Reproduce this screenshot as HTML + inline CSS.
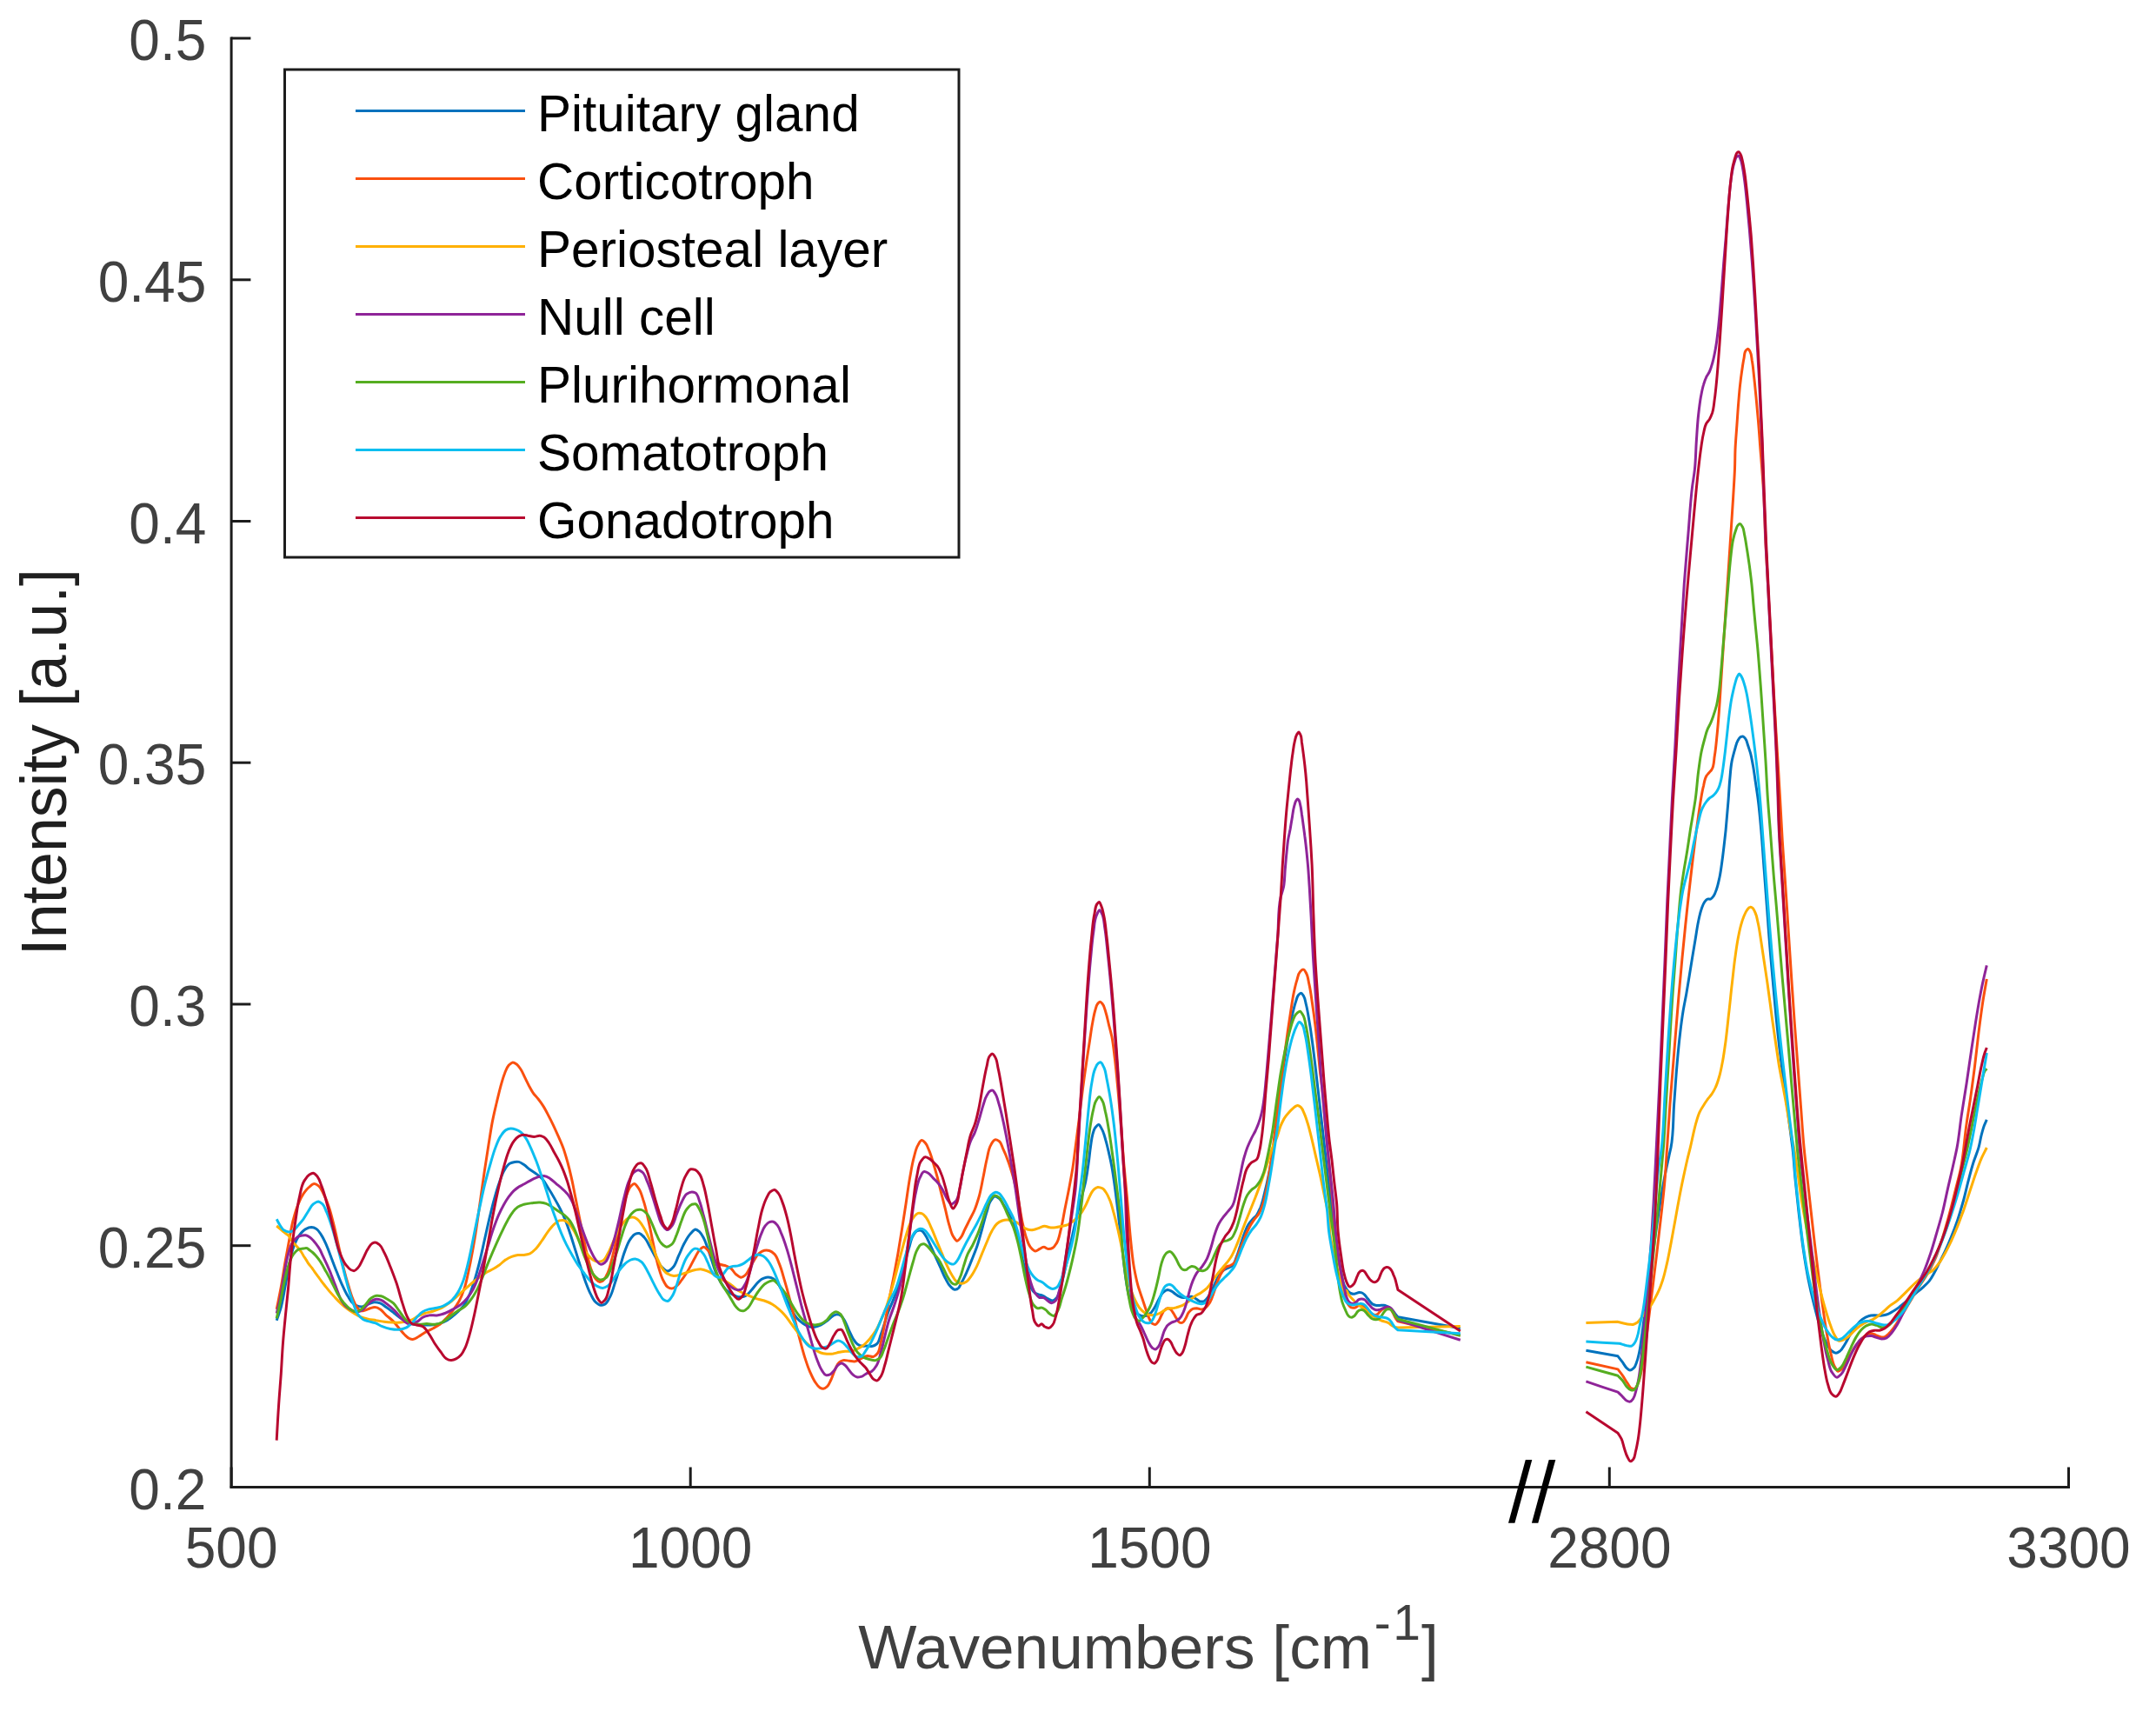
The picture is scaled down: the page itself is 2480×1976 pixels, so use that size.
<!DOCTYPE html><html><head><meta charset="utf-8"><title>Raman spectra</title>
<style>html,body{margin:0;padding:0;background:#fff}svg{display:block}text{font-family:"Liberation Sans",sans-serif}</style></head><body>
<svg width="2480" height="1976" viewBox="0 0 2480 1976">
<rect width="2480" height="1976" fill="#fff"/>
<g fill="none" stroke-width="3" stroke-linejoin="round" stroke-linecap="butt">
<path stroke="#0072BD" d="M318.2 1518.7C319.6 1514.4 321.3 1510.2 322.6 1505.9C325.1 1497.5 326.3 1488.8 327.9 1480.3C329.6 1471.8 330.7 1463.1 332.6 1454.7C334.1 1447.6 335.3 1440.4 337.9 1433.7C339.7 1429.3 341.4 1424.7 344.2 1420.9C346.2 1418.3 348.4 1415.5 351.2 1413.9C353.3 1412.8 355.9 1411.6 358.2 1411.6C360.1 1411.7 362.3 1412.5 364.0 1413.5C366.6 1415.0 368.1 1418.3 369.8 1420.9C372.2 1424.5 373.9 1428.6 375.7 1432.6C377.9 1437.5 379.5 1442.6 381.5 1447.7C383.4 1452.7 385.3 1457.8 387.3 1462.8C389.2 1467.5 391.0 1472.2 393.1 1476.8C395.3 1481.5 397.3 1486.4 400.1 1490.8C401.9 1493.6 403.4 1496.8 405.9 1498.9C407.3 1500.1 408.9 1501.3 410.6 1501.9C412.4 1502.6 414.5 1503.0 416.4 1502.9C418.8 1502.7 421.0 1500.9 423.4 1500.1C425.7 1499.2 428.0 1497.9 430.4 1497.7C432.6 1497.6 435.2 1498.1 437.3 1498.9C439.9 1499.9 442.0 1502.0 444.3 1503.6C447.5 1505.8 450.5 1508.2 453.6 1510.5C456.7 1512.9 459.6 1515.5 462.9 1517.5C465.9 1519.3 469.0 1521.2 472.3 1522.2C475.9 1523.3 480.0 1523.3 483.9 1523.6C487.8 1523.9 491.7 1524.3 495.5 1524.0C498.6 1523.8 501.8 1523.5 504.8 1522.6C508.1 1521.7 511.2 1520.3 514.2 1518.7C517.5 1516.8 520.5 1514.2 523.5 1511.7C526.8 1508.8 530.1 1505.9 532.8 1502.4C535.7 1498.6 537.7 1494.0 539.8 1489.6C542.1 1484.4 543.8 1478.8 545.6 1473.3C547.8 1466.4 549.6 1459.4 551.4 1452.3C553.6 1443.9 555.3 1435.3 557.2 1426.7C559.2 1418.2 561.0 1409.6 563.0 1401.1C564.9 1393.4 566.7 1385.5 568.9 1377.9C570.6 1371.6 572.4 1365.3 574.7 1359.2C576.4 1354.5 577.7 1349.4 580.5 1345.3C582.1 1342.8 583.8 1339.8 586.3 1338.3C588.0 1337.3 590.1 1336.7 592.1 1336.4C593.7 1336.2 595.3 1336.1 596.8 1336.4C598.9 1336.8 600.8 1338.3 602.6 1339.5C605.1 1341.1 607.2 1343.5 609.6 1345.3C611.8 1346.9 614.3 1348.3 616.6 1349.9C619.0 1351.7 621.5 1353.6 623.6 1355.7C626.4 1358.8 628.3 1362.7 630.5 1366.2C633.0 1370.0 635.3 1373.9 637.5 1377.9C639.9 1382.1 642.3 1386.3 644.5 1390.7C646.6 1394.9 648.5 1399.1 650.3 1403.5C652.5 1408.8 654.3 1414.3 656.1 1419.8C658.2 1425.9 660.0 1432.2 662.0 1438.4C663.9 1444.6 665.8 1450.8 667.8 1457.0C669.7 1462.8 671.4 1468.7 673.6 1474.5C675.4 1479.2 677.1 1484.0 679.4 1488.4C681.1 1491.6 682.6 1495.4 685.2 1497.7C686.9 1499.2 689.0 1501.1 691.1 1501.2C692.5 1501.3 694.4 1500.7 695.7 1500.1C698.5 1498.6 699.9 1494.8 701.5 1491.9C704.4 1487.0 705.5 1481.1 707.4 1475.6C709.4 1469.5 711.2 1463.2 713.2 1457.0C715.1 1450.8 716.6 1444.4 719.0 1438.4C720.7 1434.0 722.1 1429.3 724.8 1425.6C726.5 1423.3 728.1 1420.3 730.6 1419.3C732.0 1418.7 733.9 1418.4 735.3 1418.6C737.5 1419.0 739.4 1421.5 741.1 1423.2C744.2 1426.4 745.8 1431.0 748.1 1434.9C750.5 1439.1 752.5 1443.5 755.1 1447.7C757.3 1451.3 759.0 1455.4 762.1 1458.2C763.8 1459.7 765.9 1462.1 767.9 1462.1C769.8 1462.1 772.0 1459.7 773.7 1458.2C777.4 1454.7 778.4 1448.9 780.7 1444.2C783.1 1439.2 784.9 1433.9 787.7 1429.1C789.7 1425.4 791.8 1421.6 794.6 1418.6C796.3 1416.9 798.1 1413.9 800.0 1413.9C801.5 1414.0 803.3 1415.6 804.7 1416.8C806.7 1418.6 808.0 1421.4 809.3 1423.8C811.3 1427.4 812.5 1431.5 814.0 1435.4C815.7 1440.0 817.1 1444.8 818.6 1449.4C820.2 1454.1 821.4 1458.9 823.3 1463.4C825.0 1467.4 826.8 1471.3 829.1 1475.0C830.8 1477.9 832.6 1480.8 834.9 1483.2C836.6 1484.9 838.7 1486.5 840.7 1487.8C842.6 1489.0 844.5 1490.2 846.6 1490.8C848.4 1491.4 850.5 1491.9 852.4 1491.8C854.3 1491.7 856.5 1491.1 858.2 1490.1C860.5 1488.9 862.2 1486.3 864.0 1484.3C866.1 1482.1 867.8 1479.6 869.8 1477.3C871.7 1475.3 873.4 1472.9 875.7 1471.5C877.4 1470.4 879.5 1469.5 881.5 1469.2C883.3 1468.9 885.5 1469.1 887.3 1469.7C889.5 1470.4 891.4 1472.2 893.1 1473.9C895.7 1476.4 897.1 1480.0 898.9 1483.2C901.1 1486.9 902.8 1490.9 904.7 1494.8C906.7 1498.7 908.4 1502.7 910.6 1506.4C912.4 1509.6 914.0 1513.0 916.4 1515.8C918.4 1518.1 920.8 1520.3 923.4 1522.0C925.5 1523.5 927.9 1525.1 930.4 1525.8C932.6 1526.4 935.1 1526.5 937.3 1526.2C939.7 1525.9 942.1 1525.0 944.3 1523.9C946.8 1522.7 949.1 1520.9 951.3 1519.2C953.7 1517.4 955.6 1514.8 958.3 1513.4C959.7 1512.7 961.4 1511.8 962.9 1511.8C964.5 1511.8 966.3 1512.6 967.6 1513.4C969.8 1514.9 970.9 1518.0 972.3 1520.4C974.1 1523.7 975.3 1527.4 976.9 1530.9C978.4 1534.0 979.7 1537.3 981.6 1540.2C982.9 1542.3 984.3 1544.6 986.2 1546.0C987.9 1547.2 990.0 1548.1 992.0 1548.3C993.9 1548.6 995.9 1547.9 997.9 1547.9C999.8 1547.9 1001.8 1548.7 1003.7 1548.3C1005.3 1548.0 1007.0 1547.0 1008.3 1546.0C1011.2 1543.7 1011.6 1539.1 1013.0 1535.5C1014.8 1531.0 1016.1 1526.2 1017.6 1521.6C1019.2 1516.9 1020.6 1512.2 1022.3 1507.6C1024.1 1502.9 1026.3 1498.3 1028.1 1493.6C1030.2 1488.3 1032.2 1482.8 1033.9 1477.3C1036.2 1470.5 1037.8 1463.4 1039.8 1456.4C1041.7 1449.4 1043.4 1442.4 1045.6 1435.4C1047.0 1430.8 1047.7 1425.6 1050.2 1421.5C1051.5 1419.4 1052.8 1416.6 1054.9 1415.7C1056.2 1415.1 1058.2 1414.8 1059.5 1415.2C1061.5 1415.7 1062.8 1418.5 1064.2 1420.3C1066.8 1423.8 1068.1 1428.0 1070.0 1432.0C1072.0 1436.2 1073.9 1440.5 1075.8 1444.8C1077.8 1449.0 1079.7 1453.3 1081.7 1457.6C1083.6 1461.8 1085.2 1466.3 1087.5 1470.4C1089.2 1473.6 1090.7 1477.2 1093.3 1479.7C1094.7 1481.0 1096.2 1483.0 1098.0 1483.2C1099.0 1483.3 1100.4 1482.9 1101.4 1482.5C1103.9 1481.3 1104.6 1477.6 1106.1 1475.0C1108.3 1471.3 1110.1 1467.3 1111.9 1463.4C1114.0 1458.8 1115.9 1454.1 1117.7 1449.4C1119.7 1444.4 1121.8 1439.4 1123.6 1434.3C1125.8 1427.8 1127.5 1421.1 1129.4 1414.5C1131.4 1407.5 1132.9 1400.4 1135.2 1393.5C1136.6 1389.2 1137.2 1384.3 1139.9 1380.7C1141.1 1379.0 1142.7 1376.2 1144.5 1376.1C1145.9 1376.0 1147.8 1377.4 1149.2 1378.4C1151.8 1380.3 1153.2 1383.8 1155.0 1386.6C1157.1 1389.9 1158.9 1393.5 1160.8 1397.0C1162.8 1400.9 1165.0 1404.7 1166.6 1408.7C1168.8 1414.2 1169.8 1420.3 1171.3 1426.1C1173.0 1433.1 1174.3 1440.1 1175.9 1447.1C1177.4 1453.3 1178.8 1459.6 1180.6 1465.7C1182.0 1470.4 1182.9 1475.4 1185.2 1479.7C1186.6 1482.1 1187.8 1485.0 1189.9 1486.7C1191.2 1487.7 1192.9 1488.4 1194.6 1489.0C1196.0 1489.5 1197.7 1489.6 1199.2 1490.1C1201.3 1491.0 1203.0 1492.6 1205.0 1493.6C1206.9 1494.6 1209.0 1496.2 1210.8 1496.0C1212.5 1495.7 1214.2 1493.8 1215.5 1492.5C1218.5 1489.3 1218.8 1484.0 1220.2 1479.7C1222.6 1472.1 1224.1 1464.2 1226.0 1456.4C1228.3 1446.4 1230.3 1436.2 1232.5 1426.1C1234.5 1416.8 1236.5 1407.5 1238.8 1398.2C1240.5 1391.2 1242.4 1384.2 1244.1 1377.3C1245.7 1371.0 1247.5 1364.9 1248.8 1358.6C1250.1 1352.1 1251.1 1345.5 1252.0 1338.8C1253.1 1331.9 1253.5 1324.8 1254.6 1317.9C1255.3 1313.5 1255.7 1308.9 1256.9 1304.6C1257.7 1302.1 1258.2 1299.2 1259.7 1297.2C1260.8 1295.8 1262.5 1293.4 1263.8 1293.5C1265.1 1293.6 1266.2 1296.5 1267.2 1298.2C1269.7 1302.2 1270.5 1307.1 1271.9 1311.6C1273.3 1316.2 1274.3 1320.9 1275.4 1325.6C1276.7 1331.0 1277.9 1336.4 1278.9 1341.9C1280.3 1349.6 1281.3 1357.4 1282.4 1365.2C1283.7 1374.5 1284.7 1383.8 1285.9 1393.1C1287.1 1403.2 1288.2 1413.3 1289.4 1423.4C1290.5 1433.5 1291.6 1443.6 1292.8 1453.6C1293.9 1462.2 1294.8 1470.8 1296.3 1479.2C1297.3 1484.7 1298.2 1490.3 1299.8 1495.5C1301.1 1499.5 1302.0 1504.0 1304.5 1507.2C1306.1 1509.1 1308.0 1511.2 1310.3 1512.3C1311.7 1513.0 1313.4 1513.6 1315.0 1513.7C1316.5 1513.8 1318.2 1513.5 1319.6 1513.0C1321.4 1512.3 1322.9 1510.8 1324.3 1509.5C1326.2 1507.6 1327.5 1504.9 1328.9 1502.5C1330.7 1499.5 1331.8 1496.2 1333.6 1493.2C1335.0 1490.8 1336.2 1488.0 1338.2 1486.2C1339.6 1485.1 1341.3 1483.6 1342.9 1483.4C1344.4 1483.3 1346.1 1484.3 1347.6 1485.1C1349.3 1485.9 1350.6 1487.5 1352.2 1488.5C1353.7 1489.6 1355.2 1490.7 1356.9 1491.3C1358.3 1491.9 1359.9 1492.4 1361.5 1492.5C1363.1 1492.6 1364.6 1492.2 1366.2 1492.0C1367.7 1491.8 1369.3 1491.1 1370.8 1491.3C1372.5 1491.6 1374.0 1492.8 1375.5 1493.7C1377.1 1494.6 1378.4 1496.2 1380.1 1496.7C1381.6 1497.1 1383.4 1497.1 1384.8 1496.7C1386.7 1496.1 1388.1 1493.7 1389.5 1492.0C1391.4 1489.6 1392.7 1486.7 1394.1 1483.9C1395.8 1480.5 1397.0 1476.8 1398.8 1473.4C1400.2 1470.6 1401.5 1467.7 1403.4 1465.3C1404.8 1463.6 1406.3 1461.8 1408.1 1460.6C1409.5 1459.6 1411.2 1459.1 1412.7 1458.3C1414.3 1457.5 1416.1 1457.0 1417.4 1456.0C1420.0 1453.9 1420.7 1449.8 1422.0 1446.6C1424.0 1442.1 1425.1 1437.3 1426.7 1432.7C1428.2 1428.0 1429.6 1423.3 1431.4 1418.7C1432.8 1415.2 1433.9 1411.4 1436.0 1408.2C1437.3 1406.2 1439.0 1404.3 1440.7 1402.4C1442.1 1400.8 1444.0 1399.5 1445.3 1397.8C1447.4 1395.1 1448.6 1391.6 1450.0 1388.5C1452.1 1383.3 1453.2 1377.6 1454.6 1372.2C1456.4 1365.2 1457.9 1358.2 1459.3 1351.2C1461.0 1342.7 1462.6 1334.2 1463.9 1325.6C1466.6 1309.2 1467.6 1292.5 1469.8 1276.1C1470.9 1267.5 1472.1 1259.0 1473.2 1250.4C1474.4 1241.9 1475.5 1233.4 1476.7 1224.8C1477.9 1217.1 1479.0 1209.3 1480.2 1201.6C1481.3 1194.6 1482.4 1187.6 1483.7 1180.6C1484.8 1175.2 1485.9 1169.7 1487.2 1164.3C1488.3 1160.0 1489.2 1155.7 1490.7 1151.5C1491.5 1149.2 1491.9 1146.3 1493.5 1144.5C1494.3 1143.6 1495.6 1142.2 1496.5 1142.2C1497.7 1142.2 1498.7 1144.4 1499.6 1145.7C1501.3 1148.4 1501.5 1151.9 1502.3 1155.0C1503.9 1161.1 1504.8 1167.4 1505.8 1173.6C1507.2 1181.4 1508.3 1189.1 1509.3 1196.9C1510.6 1206.2 1511.7 1215.5 1512.8 1224.8C1514.0 1234.9 1515.2 1245.0 1516.3 1255.1C1517.6 1266.0 1518.8 1276.8 1520.0 1287.7C1521.3 1298.6 1522.5 1309.4 1523.7 1320.3C1525.0 1331.1 1526.2 1342.0 1527.5 1352.9C1528.6 1363.0 1530.0 1373.0 1531.1 1383.1C1532.4 1394.0 1533.4 1404.9 1534.7 1415.7C1535.7 1423.7 1536.6 1431.7 1538.0 1439.7C1539.3 1447.5 1540.8 1455.2 1542.6 1462.9C1543.9 1468.4 1544.1 1474.5 1546.8 1479.2C1548.6 1482.3 1550.5 1486.2 1553.7 1487.5C1554.7 1487.9 1555.9 1488.3 1556.9 1488.3C1558.0 1488.3 1559.0 1487.8 1560.1 1487.5C1561.1 1487.2 1562.2 1486.6 1563.2 1486.5C1564.3 1486.4 1565.4 1486.5 1566.4 1486.9C1567.6 1487.3 1568.6 1488.2 1569.6 1489.1C1570.8 1490.2 1571.7 1491.7 1572.7 1493.0C1573.8 1494.3 1574.8 1495.7 1575.9 1497.0C1576.9 1498.1 1577.8 1499.4 1579.1 1500.1C1580.0 1500.7 1581.1 1501.1 1582.2 1501.3C1583.3 1501.6 1584.3 1501.6 1585.4 1501.6C1586.5 1501.6 1587.5 1501.4 1588.6 1501.3C1589.6 1501.3 1590.7 1501.2 1591.7 1501.3C1592.8 1501.5 1593.9 1501.8 1594.9 1502.1C1596.0 1502.5 1597.1 1503.1 1598.1 1503.7C1599.2 1504.5 1600.3 1505.5 1601.2 1506.5C1602.4 1507.7 1603.3 1509.1 1604.4 1510.4C1605.6 1511.9 1606.8 1513.3 1608.0 1514.8C1631.9 1519.1 1655.9 1523.4 1679.8 1527.7"/>
<path stroke="#0072BD" d="M1824.4 1553.2C1836.6 1555.4 1848.8 1557.6 1861.0 1559.8C1862.8 1562.1 1864.6 1564.4 1866.3 1566.7C1867.9 1568.9 1869.1 1571.5 1871.0 1573.3C1872.2 1574.3 1873.6 1576.0 1875.0 1576.1C1876.3 1576.1 1878.0 1574.7 1879.1 1573.7C1881.0 1572.1 1881.7 1569.1 1882.6 1566.7C1884.1 1563.0 1884.8 1559.0 1885.7 1555.1C1887.0 1549.0 1887.6 1542.7 1888.5 1536.5C1889.7 1528.0 1890.8 1519.4 1891.9 1510.9C1893.1 1502.3 1894.3 1493.8 1895.4 1485.3C1896.6 1476.7 1897.8 1468.2 1898.9 1459.7C1900.1 1451.1 1901.3 1442.6 1902.4 1434.1C1903.6 1425.5 1904.7 1417.0 1905.9 1408.5C1907.0 1400.7 1908.2 1392.9 1909.4 1385.2C1910.5 1378.2 1911.7 1371.2 1912.9 1364.2C1914.0 1358.0 1915.1 1351.8 1916.4 1345.6C1917.5 1340.2 1918.7 1334.7 1919.9 1329.3C1920.6 1326.2 1921.3 1323.1 1922.0 1319.9C1925.3 1303.3 1924.4 1286.1 1925.7 1269.2C1926.9 1253.6 1927.8 1238.1 1929.2 1222.6C1930.2 1211.0 1931.3 1199.3 1932.7 1187.7C1933.7 1179.1 1934.8 1170.6 1936.2 1162.1C1937.2 1155.9 1938.6 1149.7 1939.7 1143.5C1940.9 1136.5 1942.0 1129.5 1943.2 1122.5C1944.3 1115.5 1945.5 1108.5 1946.6 1101.6C1947.8 1094.6 1949.0 1087.6 1950.1 1080.6C1951.3 1073.6 1952.1 1066.6 1953.6 1059.7C1954.6 1055.0 1955.5 1050.2 1957.1 1045.7C1958.1 1042.9 1958.9 1039.9 1960.6 1037.6C1961.6 1036.3 1962.7 1034.5 1964.1 1034.1C1965.1 1033.7 1966.6 1034.4 1967.6 1034.1C1969.0 1033.6 1970.1 1031.9 1971.1 1030.6C1972.8 1028.3 1973.6 1025.2 1974.6 1022.4C1976.2 1017.9 1977.1 1013.1 1978.1 1008.5C1979.7 1000.8 1980.5 993.0 1981.6 985.2C1982.9 975.1 1984.0 965.0 1985.1 954.9C1986.2 943.3 1987.2 931.6 1988.1 919.9C1988.7 912.3 1989.0 904.7 1989.7 897.1C1990.4 890.1 1990.7 883.0 1992.0 876.1C1992.9 871.4 1994.2 866.8 1995.5 862.2C1996.6 858.7 1997.1 854.8 1999.0 851.7C1999.9 850.3 2000.7 848.5 2002.0 847.7C2002.9 847.3 2004.0 846.9 2004.8 847.0C2005.9 847.2 2006.9 848.5 2007.6 849.4C2009.5 851.5 2009.7 854.8 2010.7 857.5C2011.7 860.6 2012.8 863.7 2013.7 866.8C2014.9 871.4 2015.6 876.1 2016.5 880.8C2017.6 887.0 2018.4 893.2 2019.3 899.4C2020.3 906.3 2021.4 913.1 2022.3 920.0C2023.8 931.6 2024.8 943.3 2025.8 954.9C2027.2 970.4 2028.1 986.0 2029.3 1001.5C2030.4 1017.0 2031.6 1032.5 2032.8 1048.0C2033.9 1063.5 2035.0 1079.1 2036.3 1094.6C2037.4 1107.8 2038.6 1121.0 2039.8 1134.2C2040.9 1146.6 2042.0 1159.0 2043.2 1171.4C2044.3 1182.3 2045.5 1193.1 2046.7 1204.0C2048.2 1216.4 2049.8 1228.8 2051.4 1241.2C2052.9 1252.9 2054.5 1264.5 2056.1 1276.1C2057.6 1287.8 2059.2 1299.4 2060.7 1311.1C2061.1 1314.0 2061.5 1317.0 2061.9 1320.0C2063.3 1331.6 2063.8 1343.3 2064.9 1354.9C2066.2 1368.1 2067.6 1381.3 2069.1 1394.5C2070.7 1408.5 2072.2 1422.5 2074.2 1436.4C2075.9 1448.1 2077.7 1459.7 2080.0 1471.3C2081.9 1480.7 2084.0 1490.0 2086.3 1499.2C2088.5 1507.8 2090.5 1516.5 2093.3 1524.8C2095.4 1531.1 2097.1 1537.7 2100.3 1543.5C2102.3 1547.1 2103.9 1551.6 2107.3 1553.9C2108.6 1554.9 2110.4 1556.3 2111.9 1556.3C2113.5 1556.3 2115.2 1554.9 2116.6 1553.9C2119.2 1552.0 2120.6 1548.6 2122.4 1545.8C2124.5 1542.4 2126.1 1538.7 2128.2 1535.3C2130.4 1531.7 2132.6 1528.1 2135.2 1524.8C2137.3 1522.2 2139.5 1519.4 2142.2 1517.4C2144.3 1515.9 2146.7 1514.4 2149.2 1513.7C2151.4 1513.0 2153.8 1512.8 2156.1 1512.7C2158.5 1512.7 2160.8 1513.3 2163.1 1513.2C2165.5 1513.1 2167.9 1512.7 2170.1 1512.0C2172.6 1511.3 2174.8 1509.8 2177.1 1508.5C2179.5 1507.2 2181.8 1505.6 2184.1 1503.9C2186.5 1502.1 2188.7 1500.0 2191.1 1498.1C2193.4 1496.1 2195.7 1494.2 2198.0 1492.3C2200.4 1490.3 2202.7 1488.4 2205.0 1486.4C2207.4 1484.5 2209.8 1482.7 2212.0 1480.6C2214.4 1478.4 2216.9 1476.2 2219.0 1473.6C2221.3 1470.8 2223.0 1467.5 2224.8 1464.3C2226.9 1460.5 2228.7 1456.6 2230.6 1452.7C2233.0 1448.0 2235.4 1443.4 2237.6 1438.7C2240.1 1433.4 2242.4 1427.9 2244.6 1422.4C2247.1 1416.3 2249.4 1410.1 2251.6 1403.8C2254.2 1396.1 2256.4 1388.3 2258.6 1380.5C2260.7 1372.8 2262.3 1365.0 2264.4 1357.2C2266.2 1350.2 2268.0 1343.2 2270.2 1336.3C2272.0 1330.8 2274.4 1325.5 2276.0 1319.9C2277.5 1314.7 2278.1 1309.3 2279.5 1304.1C2280.4 1301.0 2281.2 1297.8 2282.3 1294.8C2283.2 1292.4 2284.3 1290.1 2285.3 1287.8"/>
<path stroke="#FA500F" d="M318.2 1505.9C319.9 1497.3 321.7 1488.8 323.3 1480.3C325.0 1471.0 326.3 1461.6 327.9 1452.3C329.4 1443.8 331.0 1435.3 332.6 1426.7C334.1 1419.0 335.2 1411.1 337.2 1403.5C338.9 1397.2 340.5 1390.8 343.1 1384.8C344.7 1380.9 346.5 1376.8 348.9 1373.2C350.9 1370.3 353.1 1367.2 355.9 1365.1C357.6 1363.7 359.7 1361.5 361.7 1361.6C363.2 1361.6 365.0 1362.9 366.3 1363.9C369.2 1366.0 370.4 1370.0 372.2 1373.2C374.5 1377.6 376.3 1382.4 378.0 1387.2C380.4 1394.0 382.0 1401.1 383.8 1408.1C386.0 1416.6 387.7 1425.2 389.6 1433.7C391.6 1442.3 393.3 1450.9 395.4 1459.3C397.2 1466.4 399.1 1473.4 401.3 1480.3C402.7 1485.0 404.0 1489.7 405.9 1494.2C407.3 1497.4 408.4 1500.9 410.6 1503.6C411.9 1505.1 413.4 1507.3 415.2 1507.7C416.6 1508.1 418.4 1507.4 419.9 1507.0C421.9 1506.5 423.7 1505.3 425.7 1504.7C427.6 1504.2 429.6 1503.4 431.5 1503.6C433.5 1503.7 435.6 1504.8 437.3 1505.9C440.1 1507.5 441.9 1510.7 444.3 1512.9C446.6 1514.9 449.1 1516.6 451.3 1518.7C453.9 1521.2 456.0 1524.1 458.3 1526.8C460.6 1529.5 462.7 1532.5 465.3 1535.0C467.1 1536.7 468.8 1538.8 471.1 1539.6C472.5 1540.2 474.3 1540.5 475.7 1540.3C477.8 1540.1 479.7 1538.4 481.6 1537.3C484.0 1535.9 486.1 1534.1 488.5 1532.7C491.5 1530.9 494.8 1529.7 497.9 1528.0C501.0 1526.2 504.3 1524.5 507.2 1522.2C509.7 1520.1 511.9 1517.6 514.2 1515.2C516.6 1512.6 519.0 1509.9 521.1 1507.0C523.7 1503.7 526.1 1500.2 528.1 1496.6C530.5 1492.2 532.3 1487.4 533.9 1482.6C536.0 1476.6 537.2 1470.2 538.6 1464.0C540.3 1456.3 541.8 1448.5 543.2 1440.7C545.0 1431.4 546.5 1422.1 547.9 1412.8C549.6 1401.9 551.0 1391.0 552.6 1380.2C554.1 1369.3 555.6 1358.5 557.2 1347.6C558.7 1337.5 560.3 1327.4 561.9 1317.3C563.4 1308.0 564.7 1298.7 566.5 1289.4C567.9 1282.4 569.5 1275.4 571.2 1268.5C572.7 1262.2 574.1 1256.0 575.8 1249.8C577.3 1244.8 578.5 1239.6 580.5 1234.7C581.8 1231.5 582.8 1227.8 585.1 1225.4C586.5 1224.0 588.2 1222.0 589.8 1221.9C591.3 1221.8 593.1 1223.2 594.5 1224.2C596.4 1225.7 597.7 1228.0 599.1 1230.0C601.0 1232.9 602.2 1236.3 603.8 1239.4C605.3 1242.5 606.8 1245.6 608.4 1248.7C609.9 1251.4 611.3 1254.3 613.1 1256.8C614.8 1259.3 617.0 1261.4 618.9 1263.8C620.9 1266.4 622.9 1269.1 624.7 1271.9C626.9 1275.3 628.7 1278.9 630.5 1282.4C632.6 1286.3 634.5 1290.1 636.4 1294.1C638.4 1298.3 640.3 1302.6 642.2 1306.9C644.2 1311.5 646.3 1316.1 648.0 1320.8C649.8 1325.8 651.2 1330.9 652.7 1336.0C654.4 1342.1 655.9 1348.3 657.3 1354.6C659.1 1362.3 660.4 1370.1 662.0 1377.9C663.5 1385.6 665.1 1393.4 666.6 1401.1C668.2 1408.9 669.6 1416.7 671.3 1424.4C672.8 1431.4 674.1 1438.4 675.9 1445.4C677.3 1450.8 678.4 1456.5 680.6 1461.7C681.9 1464.8 682.9 1468.5 685.2 1471.0C686.5 1472.3 688.2 1474.4 689.9 1474.5C691.0 1474.5 692.4 1473.9 693.4 1473.3C695.7 1472.0 696.7 1468.7 698.0 1466.3C701.2 1460.7 702.1 1454.0 703.9 1447.7C706.2 1439.3 707.8 1430.6 709.7 1422.1C711.7 1412.8 713.2 1403.4 715.5 1394.2C717.2 1387.1 718.5 1379.8 721.3 1373.2C722.7 1370.0 723.5 1366.2 726.0 1363.9C727.0 1363.0 728.4 1361.7 729.5 1361.6C731.2 1361.4 732.8 1364.5 734.1 1366.2C737.2 1370.1 738.3 1375.4 739.9 1380.2C742.6 1387.7 744.0 1395.7 745.8 1403.5C747.9 1412.7 749.6 1422.1 751.6 1431.4C753.4 1439.9 754.9 1448.6 757.4 1457.0C759.1 1462.5 760.4 1468.3 763.2 1473.3C764.6 1475.7 765.7 1478.8 767.9 1480.3C769.2 1481.2 771.0 1482.1 772.5 1482.1C774.5 1482.2 776.6 1480.4 778.4 1479.1C780.7 1477.3 782.3 1474.5 784.2 1472.1C786.7 1468.8 789.0 1465.2 791.2 1461.7C794.4 1456.4 796.9 1450.7 800.0 1445.4C801.5 1442.8 802.6 1439.9 804.7 1437.8C806.0 1436.4 807.8 1434.3 809.3 1434.3C810.9 1434.3 812.6 1436.4 814.0 1437.8C815.9 1439.7 817.1 1442.4 818.6 1444.8C820.2 1447.1 821.2 1450.0 823.3 1451.7C824.9 1453.0 827.1 1453.8 829.1 1454.5C831.0 1455.2 833.0 1455.3 834.9 1455.9C836.9 1456.6 839.0 1457.5 840.7 1458.7C843.1 1460.5 844.2 1463.8 846.6 1465.7C848.3 1467.1 850.4 1469.3 852.4 1469.2C853.9 1469.1 855.7 1467.9 857.0 1466.9C859.2 1465.2 860.2 1462.3 861.7 1459.9C863.8 1456.5 865.4 1452.8 867.5 1449.4C869.3 1446.6 870.8 1443.3 873.3 1441.3C875.0 1440.0 877.1 1438.7 879.1 1438.2C881.0 1437.9 883.2 1437.9 885.0 1438.5C887.1 1439.1 889.2 1440.8 890.8 1442.4C893.8 1445.4 894.9 1450.1 896.6 1454.1C899.1 1460.0 900.6 1466.5 902.4 1472.7C904.5 1479.6 906.4 1486.6 908.2 1493.6C910.3 1501.4 912.1 1509.2 914.1 1516.9C916.0 1524.7 917.8 1532.5 919.9 1540.2C921.7 1547.2 923.5 1554.2 925.7 1561.1C927.5 1566.6 929.2 1572.2 931.5 1577.4C933.3 1581.4 934.9 1585.5 937.3 1589.1C939.0 1591.6 940.6 1594.7 943.2 1596.1C944.3 1596.7 945.8 1597.3 947.1 1597.2C948.6 1597.1 950.1 1595.9 951.3 1594.9C953.6 1593.0 954.6 1589.5 956.0 1586.8C957.8 1583.0 958.8 1578.8 960.6 1575.1C962.0 1572.3 962.9 1568.8 965.3 1567.0C966.6 1565.9 968.3 1565.0 969.9 1564.6C972.1 1564.1 974.6 1565.1 976.9 1565.3C979.2 1565.5 981.7 1566.2 983.9 1565.8C986.4 1565.3 988.5 1563.4 990.9 1562.3C993.2 1561.3 995.4 1559.8 997.9 1559.5C1000.1 1559.3 1002.8 1561.1 1004.8 1560.4C1006.6 1559.9 1008.3 1558.0 1009.5 1556.5C1011.9 1553.4 1012.0 1548.8 1013.0 1544.9C1014.4 1539.5 1015.4 1534.0 1016.5 1528.6C1017.7 1522.4 1018.8 1516.1 1020.0 1509.9C1021.1 1503.7 1022.3 1497.5 1023.5 1491.3C1025.0 1483.5 1026.6 1475.8 1028.1 1468.0C1029.7 1459.5 1031.3 1451.0 1032.8 1442.4C1034.4 1433.1 1035.9 1423.8 1037.4 1414.5C1039.0 1404.4 1040.5 1394.3 1042.1 1384.2C1043.6 1374.1 1044.9 1364.0 1046.7 1354.0C1048.1 1346.2 1049.3 1338.3 1051.4 1330.7C1052.7 1326.0 1053.4 1320.8 1056.1 1316.7C1057.2 1314.9 1058.6 1311.6 1060.2 1311.6C1061.4 1311.6 1063.1 1313.3 1064.2 1314.4C1066.6 1316.8 1067.5 1320.5 1068.9 1323.7C1070.8 1328.2 1072.1 1333.0 1073.5 1337.7C1075.2 1343.1 1076.7 1348.5 1078.2 1354.0C1079.8 1360.2 1081.3 1366.4 1082.8 1372.6C1084.4 1378.8 1085.9 1385.0 1087.5 1391.2C1089.0 1397.4 1090.2 1403.7 1092.1 1409.8C1093.5 1414.2 1094.2 1419.0 1096.8 1422.6C1098.0 1424.3 1099.5 1427.3 1101.0 1427.3C1102.2 1427.3 1103.8 1425.1 1104.9 1423.8C1107.2 1421.2 1108.0 1417.6 1109.6 1414.5C1111.5 1410.6 1113.5 1406.7 1115.4 1402.9C1117.3 1399.0 1119.6 1395.2 1121.2 1391.2C1123.1 1386.7 1124.5 1382.0 1125.9 1377.3C1127.9 1370.4 1129.1 1363.3 1130.5 1356.3C1132.2 1348.6 1133.3 1340.7 1135.2 1333.0C1136.6 1327.5 1136.9 1321.5 1139.9 1316.7C1141.1 1314.7 1142.5 1311.2 1144.5 1310.9C1145.8 1310.7 1147.9 1311.7 1149.2 1312.5C1151.8 1314.3 1152.4 1318.4 1153.8 1321.4C1156.0 1325.9 1157.9 1330.6 1159.6 1335.4C1161.9 1341.4 1163.7 1347.7 1165.5 1354.0C1167.8 1362.4 1169.5 1371.0 1171.3 1379.6C1173.0 1388.1 1174.1 1396.7 1175.9 1405.2C1177.3 1411.4 1178.4 1417.8 1180.6 1423.8C1181.9 1427.4 1182.8 1431.5 1185.2 1434.3C1186.8 1436.1 1189.0 1439.0 1191.1 1438.9C1192.5 1438.9 1194.2 1437.4 1195.7 1436.6C1197.3 1435.8 1198.8 1434.4 1200.4 1434.3C1202.3 1434.1 1204.2 1436.6 1206.2 1436.6C1207.7 1436.6 1209.5 1436.2 1210.8 1435.4C1212.9 1434.3 1214.2 1431.7 1215.5 1429.6C1218.2 1425.2 1218.8 1419.6 1220.2 1414.5C1222.2 1406.9 1223.3 1399.0 1224.8 1391.2C1226.4 1383.5 1228.0 1375.7 1229.5 1367.9C1231.1 1359.4 1232.8 1350.9 1234.1 1342.3C1235.2 1335.0 1236.0 1327.6 1237.0 1320.3C1238.4 1309.4 1239.8 1298.6 1241.2 1287.7C1242.6 1276.1 1243.9 1264.4 1245.4 1252.8C1246.7 1242.7 1248.1 1232.6 1249.6 1222.5C1250.8 1214.0 1252.2 1205.4 1253.5 1196.9C1254.6 1189.9 1255.4 1182.9 1256.8 1176.0C1257.7 1171.3 1258.4 1166.5 1259.8 1162.0C1260.6 1159.5 1260.9 1156.5 1262.6 1154.5C1263.4 1153.7 1264.5 1152.2 1265.4 1152.2C1266.4 1152.2 1267.6 1154.0 1268.4 1155.0C1270.5 1157.5 1270.9 1161.2 1271.9 1164.3C1273.4 1168.9 1274.2 1173.6 1275.4 1178.3C1276.6 1182.9 1277.9 1187.6 1278.9 1192.3C1280.6 1200.7 1281.3 1209.3 1282.4 1217.9C1283.8 1229.5 1284.8 1241.1 1285.9 1252.8C1287.2 1266.7 1288.2 1280.7 1289.4 1294.7C1290.6 1309.4 1291.6 1324.2 1292.8 1338.9C1293.9 1351.3 1295.2 1363.7 1296.3 1376.1C1298.0 1394.2 1299.0 1412.3 1301.0 1430.4C1302.0 1439.7 1302.8 1449.1 1304.5 1458.3C1305.8 1465.3 1307.2 1472.4 1309.1 1479.2C1310.5 1483.9 1312.2 1488.5 1313.8 1493.2C1315.4 1497.9 1316.8 1502.6 1318.5 1507.2C1319.6 1510.3 1320.5 1513.5 1321.9 1516.5C1323.0 1518.5 1323.6 1521.2 1325.4 1522.3C1326.4 1522.9 1327.9 1523.6 1328.9 1523.5C1330.3 1523.3 1331.4 1521.3 1332.4 1520.0C1334.0 1517.9 1334.7 1515.3 1335.9 1513.0C1337.0 1511.0 1337.8 1508.7 1339.4 1507.2C1340.4 1506.2 1341.6 1505.0 1342.9 1504.8C1344.0 1504.7 1345.4 1505.4 1346.4 1506.0C1348.0 1507.0 1348.8 1509.1 1349.9 1510.7C1351.1 1512.5 1352.1 1514.6 1353.4 1516.5C1354.5 1518.1 1355.2 1520.6 1356.9 1521.1C1357.9 1521.5 1359.4 1521.5 1360.4 1521.1C1362.0 1520.6 1362.8 1518.1 1363.8 1516.5C1365.2 1514.3 1365.7 1511.5 1367.3 1509.5C1368.6 1507.9 1370.1 1506.0 1372.0 1505.3C1373.4 1504.8 1375.1 1504.8 1376.6 1504.8C1378.6 1504.9 1380.6 1506.3 1382.5 1506.0C1384.1 1505.8 1385.8 1504.7 1387.1 1503.7C1389.1 1502.2 1390.5 1499.9 1391.8 1497.9C1394.0 1494.4 1395.0 1490.1 1396.4 1486.2C1398.1 1481.6 1399.2 1476.8 1401.1 1472.3C1402.5 1469.1 1403.8 1465.8 1405.7 1462.9C1407.1 1460.9 1408.4 1458.4 1410.4 1457.1C1411.7 1456.3 1413.6 1456.2 1415.1 1455.5C1416.7 1454.7 1418.4 1453.7 1419.7 1452.5C1422.4 1449.9 1422.9 1445.5 1424.4 1442.0C1426.0 1438.1 1427.5 1434.2 1429.0 1430.4C1430.6 1426.5 1432.0 1422.5 1433.7 1418.7C1435.1 1415.6 1436.6 1412.4 1438.3 1409.4C1439.8 1407.0 1441.3 1404.7 1443.0 1402.4C1444.5 1400.4 1446.3 1398.7 1447.6 1396.6C1449.7 1393.4 1451.0 1389.7 1452.3 1386.1C1454.5 1380.1 1455.6 1373.8 1457.0 1367.5C1458.4 1360.6 1459.3 1353.5 1460.4 1346.6C1461.7 1338.8 1462.9 1331.0 1463.9 1323.3C1465.2 1313.8 1466.3 1304.2 1467.4 1294.7C1468.6 1285.4 1469.8 1276.1 1470.9 1266.7C1472.1 1257.4 1473.2 1248.1 1474.4 1238.8C1475.6 1229.5 1476.7 1220.2 1477.9 1210.9C1479.0 1202.3 1480.2 1193.8 1481.4 1185.3C1482.5 1177.5 1483.7 1169.7 1484.9 1162.0C1486.0 1155.0 1486.9 1148.0 1488.4 1141.0C1489.4 1136.4 1490.4 1131.6 1491.9 1127.1C1492.9 1123.9 1493.2 1120.1 1495.4 1117.8C1496.4 1116.6 1498.2 1114.8 1499.3 1115.0C1500.5 1115.1 1501.5 1117.5 1502.3 1118.9C1504.6 1122.6 1504.8 1127.4 1505.8 1131.7C1507.4 1138.6 1508.3 1145.7 1509.3 1152.7C1510.6 1161.2 1511.8 1169.7 1512.8 1178.3C1514.0 1187.6 1514.9 1196.9 1515.8 1206.2C1516.8 1215.5 1517.6 1224.9 1518.6 1234.2C1519.4 1240.4 1520.3 1246.6 1521.0 1252.8C1522.3 1264.4 1522.9 1276.1 1524.0 1287.7C1525.0 1299.3 1526.2 1311.0 1527.3 1322.6C1528.3 1334.2 1529.4 1345.9 1530.5 1357.5C1531.5 1367.6 1532.6 1377.7 1533.5 1387.8C1534.7 1400.4 1535.3 1413.1 1536.8 1425.7C1537.8 1434.3 1539.0 1442.8 1540.3 1451.3C1541.4 1458.3 1542.5 1465.3 1543.8 1472.3C1544.7 1477.7 1545.4 1483.2 1546.8 1488.5C1547.8 1492.5 1548.3 1496.9 1550.6 1500.1C1551.3 1501.1 1552.0 1502.2 1553.0 1502.9C1553.7 1503.4 1554.5 1503.9 1555.3 1504.1C1556.1 1504.3 1556.9 1504.4 1557.7 1504.3C1558.5 1504.1 1559.3 1503.7 1560.1 1503.3C1560.9 1502.9 1561.6 1502.1 1562.4 1501.7C1563.2 1501.4 1564.0 1501.0 1564.8 1500.9C1565.6 1500.9 1566.5 1501.1 1567.2 1501.3C1568.1 1501.7 1568.8 1502.3 1569.6 1502.9C1570.7 1503.8 1571.7 1505.0 1572.7 1506.1C1573.8 1507.1 1574.8 1508.3 1575.9 1509.3C1576.9 1510.1 1577.9 1511.1 1579.1 1511.6C1579.9 1512.0 1580.9 1512.4 1581.8 1512.4C1582.8 1512.4 1583.8 1512.1 1584.6 1511.6C1585.6 1511.0 1586.1 1509.7 1587.0 1508.9C1588.0 1507.9 1589.0 1506.8 1590.1 1506.1C1591.1 1505.4 1592.2 1504.8 1593.3 1504.5C1594.6 1504.1 1596.1 1503.7 1597.3 1504.1C1598.1 1504.4 1599.0 1505.1 1599.6 1505.7C1600.7 1506.7 1601.3 1508.3 1602.0 1509.6C1603.0 1511.4 1603.8 1513.4 1604.8 1515.2C1605.7 1516.8 1606.9 1518.4 1608.0 1519.9C1631.9 1525.2 1655.9 1530.5 1679.8 1535.8"/>
<path stroke="#FA500F" d="M1824.4 1566.7C1836.6 1569.5 1848.8 1572.2 1861.0 1574.9C1862.8 1577.2 1864.7 1579.5 1866.3 1581.9C1868.4 1584.9 1870.0 1588.2 1872.2 1591.2C1873.6 1593.2 1874.6 1596.2 1876.8 1597.0C1877.8 1597.4 1879.3 1597.7 1880.3 1597.5C1882.0 1597.0 1882.8 1594.1 1883.8 1592.3C1885.7 1588.8 1886.3 1584.6 1887.3 1580.7C1889.0 1573.9 1889.7 1566.8 1890.8 1559.8C1892.1 1551.2 1893.2 1542.7 1894.3 1534.2C1895.5 1524.8 1896.6 1515.5 1897.8 1506.2C1898.9 1496.9 1900.1 1487.6 1901.3 1478.3C1902.4 1469.0 1903.6 1459.7 1904.7 1450.4C1906.0 1440.3 1907.1 1430.2 1908.2 1420.1C1909.4 1410.0 1910.6 1399.9 1911.7 1389.8C1913.0 1378.2 1914.3 1366.6 1915.2 1354.9C1916.2 1343.3 1916.8 1331.6 1917.6 1319.9C1918.7 1303.0 1919.8 1286.1 1921.0 1269.2C1922.5 1249.8 1924.1 1230.4 1925.7 1211.0C1927.3 1191.6 1928.7 1172.2 1930.4 1152.8C1931.8 1135.7 1933.4 1118.6 1935.0 1101.6C1936.5 1086.0 1938.0 1070.5 1939.7 1055.0C1941.1 1041.0 1942.7 1027.1 1944.3 1013.1C1945.8 999.9 1947.3 986.7 1949.0 973.5C1950.4 961.9 1952.0 950.2 1953.6 938.6C1954.5 932.4 1955.4 926.1 1956.4 919.9C1957.3 914.6 1958.1 909.3 1959.5 904.1C1960.4 900.2 1960.8 895.8 1962.9 892.4C1963.7 891.2 1964.8 890.1 1965.7 888.9C1966.7 887.8 1967.9 886.7 1968.8 885.5C1971.9 881.0 1971.3 874.6 1972.3 869.2C1973.6 861.5 1974.2 853.7 1975.0 845.9C1976.0 836.6 1976.7 827.3 1977.4 818.0C1978.3 806.3 1978.9 794.7 1979.7 783.0C1980.5 771.4 1981.3 759.8 1982.0 748.1C1982.8 736.5 1983.6 724.8 1984.4 713.2C1985.1 701.6 1985.9 689.9 1986.7 678.3C1987.5 666.6 1988.2 655.0 1989.0 643.4C1989.8 631.7 1990.6 620.1 1991.3 608.5C1992.1 596.0 1992.9 583.6 1993.7 571.2C1994.3 560.3 1995.1 549.5 1995.5 538.6C1995.8 531.5 1995.7 524.3 1996.0 517.1C1996.4 507.8 1997.2 498.5 1997.9 489.2C1998.5 480.6 1999.0 472.1 1999.7 463.6C2000.3 456.6 2000.8 449.6 2001.6 442.6C2002.2 437.2 2002.9 431.7 2003.7 426.3C2004.4 421.6 2005.0 417.0 2006.0 412.3C2006.7 409.2 2006.2 405.3 2008.3 403.0C2009.0 402.3 2010.0 401.2 2010.7 401.2C2011.6 401.2 2012.3 403.1 2013.0 404.2C2014.8 407.2 2014.7 411.2 2015.3 414.7C2016.5 420.8 2016.9 427.1 2017.6 433.3C2018.5 441.0 2019.2 448.8 2020.0 456.6C2020.8 465.1 2021.6 473.6 2022.3 482.2C2023.2 492.3 2023.9 502.4 2024.6 512.4C2026.0 530.5 2027.6 548.5 2028.6 566.6C2029.7 585.9 2030.0 605.4 2030.9 624.7C2031.7 640.3 2032.6 655.8 2033.5 671.3C2034.3 686.8 2035.2 702.3 2036.0 717.9C2036.9 733.4 2037.7 748.9 2038.6 764.4C2039.4 779.9 2040.3 795.5 2041.2 811.0C2042.0 826.5 2043.0 842.0 2043.9 857.5C2044.9 873.0 2045.8 888.6 2046.7 904.1C2048.0 924.9 2048.9 945.7 2050.2 966.6C2051.3 983.6 2052.6 1000.7 2053.7 1017.8C2054.9 1035.6 2056.1 1053.5 2057.2 1071.3C2058.4 1089.1 2059.5 1107.0 2060.7 1124.8C2061.8 1141.9 2063.0 1159.0 2064.2 1176.1C2065.3 1191.6 2066.5 1207.1 2067.7 1222.6C2068.9 1238.1 2070.0 1253.6 2071.2 1269.2C2072.5 1286.1 2073.5 1303.1 2075.1 1320.0C2076.2 1331.7 2077.6 1343.3 2078.9 1354.9C2080.3 1368.1 2081.8 1381.3 2083.3 1394.5C2084.7 1406.9 2086.0 1419.3 2087.5 1431.7C2089.0 1444.2 2090.5 1456.6 2092.1 1469.0C2093.6 1480.6 2095.1 1492.3 2096.8 1503.9C2098.2 1514.0 2099.6 1524.1 2101.4 1534.2C2102.8 1541.9 2104.1 1549.8 2106.1 1557.4C2107.4 1562.5 2108.0 1568.1 2110.8 1572.6C2111.8 1574.2 2112.8 1577.0 2114.2 1577.2C2115.4 1577.4 2117.2 1575.9 2118.4 1574.9C2120.9 1572.9 2121.9 1569.5 2123.6 1566.7C2125.6 1563.3 2127.3 1559.7 2129.4 1556.3C2131.2 1553.1 2133.0 1549.9 2135.2 1547.0C2137.0 1544.5 2138.8 1542.1 2141.0 1540.0C2142.8 1538.3 2144.7 1536.4 2146.8 1535.3C2148.3 1534.6 2149.9 1533.8 2151.5 1533.7C2153.4 1533.6 2155.4 1534.7 2157.3 1535.3C2159.3 1536.0 2161.1 1537.3 2163.1 1537.6C2164.6 1537.9 2166.4 1538.1 2167.8 1537.6C2169.6 1537.1 2171.0 1535.4 2172.4 1534.2C2174.7 1532.1 2176.4 1529.6 2178.3 1527.2C2180.8 1523.8 2183.0 1520.2 2185.2 1516.7C2187.7 1512.9 2189.9 1508.9 2192.2 1505.1C2194.6 1501.2 2196.9 1497.3 2199.2 1493.4C2201.5 1489.5 2203.8 1485.6 2206.2 1481.8C2208.4 1478.2 2210.9 1474.8 2213.2 1471.3C2215.6 1467.5 2218.0 1463.6 2220.2 1459.7C2222.2 1455.9 2224.2 1452.0 2226.0 1448.0C2228.3 1442.8 2230.0 1437.2 2231.8 1431.7C2233.9 1425.6 2235.8 1419.3 2237.6 1413.1C2239.7 1406.2 2241.6 1399.2 2243.4 1392.2C2245.5 1384.4 2247.3 1376.6 2249.3 1368.9C2251.2 1361.1 2253.4 1353.4 2255.1 1345.6C2258.8 1328.1 2259.5 1310.1 2262.1 1292.4C2263.5 1282.3 2265.3 1272.3 2266.7 1262.2C2268.4 1250.6 2269.9 1238.9 2271.4 1227.3C2273.0 1214.1 2274.4 1200.9 2276.0 1187.7C2277.5 1176.0 2278.9 1164.4 2280.7 1152.8C2282.1 1143.8 2283.8 1134.9 2285.3 1126.0"/>
<path stroke="#FFB000" d="M318.2 1410.0C319.6 1411.1 321.0 1412.3 322.3 1413.5C323.6 1414.5 324.8 1415.7 326.1 1416.7C327.3 1417.7 328.6 1418.6 329.8 1419.5C330.7 1420.3 331.8 1420.9 332.6 1421.9C333.4 1422.8 333.8 1424.1 334.5 1425.1C335.2 1426.2 336.0 1427.3 336.8 1428.4C337.8 1429.7 339.0 1430.9 340.0 1432.1C341.1 1433.3 342.2 1434.5 343.3 1435.8C344.4 1437.2 345.6 1438.6 346.6 1440.0C347.6 1441.5 348.4 1443.1 349.3 1444.7C350.2 1446.1 351.2 1447.4 352.1 1448.9C353.1 1450.4 353.9 1452.0 354.9 1453.5C356.1 1455.1 357.5 1456.6 358.7 1458.2C359.8 1459.7 360.8 1461.3 361.9 1462.8C363.1 1464.5 364.4 1466.2 365.6 1467.9C366.9 1469.6 368.1 1471.4 369.4 1473.1C370.4 1474.5 371.5 1475.9 372.6 1477.3C374.8 1480.0 376.9 1482.8 379.1 1485.4C381.4 1488.0 383.7 1490.6 386.1 1493.1C388.4 1495.5 390.7 1497.9 393.1 1500.1C395.3 1502.1 397.7 1504.1 400.1 1505.9C402.3 1507.6 404.7 1509.1 407.1 1510.5C409.3 1511.9 411.6 1513.2 414.1 1514.3C417.0 1515.5 420.2 1516.3 423.4 1517.1C426.4 1517.8 429.6 1518.1 432.7 1518.7C435.8 1519.2 438.9 1519.9 442.0 1520.3C445.1 1520.7 448.2 1520.9 451.3 1521.0C454.4 1521.1 457.5 1521.3 460.6 1521.0C463.0 1520.8 465.3 1520.4 467.6 1519.9C470.0 1519.3 472.4 1518.5 474.6 1517.5C477.0 1516.4 479.1 1514.5 481.6 1513.3C483.8 1512.2 486.2 1511.3 488.5 1510.5C491.6 1509.5 494.8 1509.2 497.9 1508.2C501.0 1507.2 504.2 1506.2 507.2 1504.7C510.4 1503.1 513.5 1501.1 516.5 1498.9C519.8 1496.5 522.7 1493.5 525.8 1490.8C528.9 1488.0 532.0 1485.3 535.1 1482.6C538.2 1479.9 541.2 1477.1 544.4 1474.5C547.4 1472.0 550.5 1469.7 553.7 1467.5C556.0 1465.9 558.3 1464.2 560.7 1462.8C563.0 1461.5 565.4 1460.6 567.7 1459.3C570.1 1457.9 572.4 1456.3 574.7 1454.7C577.1 1452.9 579.1 1450.5 581.7 1448.9C583.8 1447.5 586.2 1446.3 588.6 1445.4C590.9 1444.5 593.3 1443.8 595.6 1443.5C597.9 1443.2 600.3 1443.8 602.6 1443.5C605.0 1443.2 607.5 1442.8 609.6 1441.9C612.3 1440.6 614.5 1438.2 616.6 1436.1C619.3 1433.3 621.3 1429.9 623.6 1426.7C626.0 1423.3 628.0 1419.6 630.5 1416.3C632.7 1413.4 634.9 1410.5 637.5 1408.1C639.3 1406.6 641.1 1404.6 643.3 1403.9C644.8 1403.5 646.5 1403.2 648.0 1403.5C649.6 1403.7 651.3 1404.8 652.7 1405.8C655.1 1407.5 656.7 1410.3 658.5 1412.8C660.8 1416.0 662.4 1419.7 664.3 1423.2C666.3 1427.1 667.8 1431.2 670.1 1434.9C671.9 1437.7 673.8 1440.5 675.9 1443.0C677.7 1445.1 679.5 1447.4 681.8 1448.9C683.5 1449.9 685.6 1451.0 687.6 1451.2C689.5 1451.3 691.7 1450.9 693.4 1450.0C696.2 1448.6 697.5 1444.7 699.2 1441.9C701.6 1437.9 703.1 1433.3 705.0 1429.1C707.0 1424.8 708.6 1420.4 710.8 1416.3C712.6 1413.1 714.4 1409.8 716.7 1407.0C718.4 1404.8 720.1 1402.3 722.5 1401.1C724.2 1400.3 726.5 1399.7 728.3 1400.0C729.9 1400.2 731.6 1401.3 733.0 1402.3C735.4 1404.0 737.0 1406.8 738.8 1409.3C741.1 1412.5 742.8 1416.2 744.6 1419.8C746.8 1424.3 748.5 1429.1 750.4 1433.7C752.4 1438.4 754.1 1443.1 756.2 1447.7C758.1 1451.6 759.4 1455.9 762.1 1459.3C763.7 1461.5 765.6 1463.8 767.9 1465.1C769.9 1466.4 772.5 1467.3 774.9 1467.5C777.1 1467.6 779.6 1466.9 781.8 1466.3C784.2 1465.7 786.5 1464.7 788.8 1464.0C792.5 1462.8 796.2 1461.1 800.0 1460.5C802.3 1460.1 804.7 1459.6 807.0 1459.9C809.4 1460.2 811.7 1461.3 814.0 1462.2C816.4 1463.2 818.7 1464.4 820.9 1465.7C823.4 1467.1 825.5 1469.0 827.9 1470.4C830.2 1471.7 832.7 1472.6 834.9 1473.9C837.3 1475.3 839.7 1476.8 841.9 1478.5C844.3 1480.3 846.3 1482.7 848.9 1484.3C851.1 1485.7 853.5 1486.7 855.9 1487.8C858.2 1488.9 860.5 1489.9 862.8 1490.8C865.2 1491.8 867.5 1492.9 869.8 1493.6C872.9 1494.6 876.1 1494.9 879.1 1496.0C882.3 1497.1 885.5 1498.4 888.5 1500.2C890.9 1501.6 893.2 1503.4 895.4 1505.3C897.9 1507.4 900.3 1509.8 902.4 1512.3C905.0 1515.2 907.1 1518.5 909.4 1521.6C911.7 1524.7 914.1 1527.8 916.4 1530.9C918.7 1534.0 920.8 1537.3 923.4 1540.2C925.5 1542.7 927.9 1545.1 930.4 1547.2C932.5 1549.0 934.9 1550.8 937.3 1552.3C939.6 1553.7 941.8 1555.2 944.3 1556.0C946.5 1556.8 949.0 1557.0 951.3 1557.2C953.6 1557.3 956.0 1557.3 958.3 1557.0C960.6 1556.6 962.9 1555.8 965.3 1555.3C967.6 1554.9 969.9 1554.4 972.3 1554.2C974.6 1554.0 977.0 1554.6 979.2 1554.2C981.7 1553.7 984.0 1552.5 986.2 1551.4C988.6 1550.2 991.1 1548.8 993.2 1547.2C995.8 1545.2 998.0 1542.7 1000.2 1540.2C1002.7 1537.3 1005.1 1534.2 1007.2 1530.9C1009.5 1527.2 1011.2 1523.2 1013.0 1519.2C1015.1 1514.7 1017.1 1510.0 1018.8 1505.3C1021.1 1499.2 1022.8 1492.9 1024.6 1486.7C1026.7 1479.7 1028.6 1472.7 1030.4 1465.7C1032.5 1458.0 1034.2 1450.2 1036.3 1442.4C1038.1 1435.4 1039.9 1428.4 1042.1 1421.5C1043.5 1416.8 1044.7 1411.9 1046.7 1407.5C1048.1 1404.7 1049.3 1401.7 1051.4 1399.4C1052.7 1397.9 1054.2 1395.9 1056.1 1395.4C1057.4 1395.1 1059.3 1395.3 1060.7 1395.9C1062.6 1396.6 1064.0 1398.8 1065.4 1400.5C1068.1 1403.9 1069.4 1408.2 1071.2 1412.2C1073.3 1416.7 1075.1 1421.5 1077.0 1426.1C1078.9 1430.8 1080.9 1435.4 1082.8 1440.1C1084.8 1444.8 1086.5 1449.5 1088.6 1454.1C1090.5 1458.0 1092.2 1462.0 1094.5 1465.7C1096.2 1468.5 1097.6 1472.0 1100.3 1473.9C1101.9 1475.0 1104.2 1476.2 1106.1 1476.2C1108.0 1476.2 1110.2 1475.0 1111.9 1473.9C1114.4 1472.2 1116.0 1469.3 1117.7 1466.9C1120.0 1463.6 1121.8 1460.0 1123.6 1456.4C1125.8 1451.9 1127.4 1447.1 1129.4 1442.4C1131.3 1437.8 1133.2 1433.1 1135.2 1428.5C1137.1 1424.2 1138.6 1419.7 1141.0 1415.7C1142.7 1412.8 1144.3 1409.6 1146.8 1407.5C1148.5 1406.1 1150.6 1404.8 1152.7 1404.0C1154.5 1403.3 1156.5 1402.9 1158.5 1402.9C1160.4 1402.9 1162.4 1403.5 1164.3 1404.0C1166.3 1404.6 1168.3 1405.3 1170.1 1406.4C1172.3 1407.6 1173.9 1409.7 1175.9 1411.0C1177.8 1412.2 1179.7 1413.4 1181.8 1414.0C1183.9 1414.7 1186.5 1414.8 1188.7 1414.5C1191.1 1414.2 1193.4 1412.9 1195.7 1412.2C1197.7 1411.5 1199.6 1410.4 1201.5 1410.3C1203.5 1410.2 1205.4 1411.5 1207.4 1411.7C1209.6 1412.0 1212.0 1411.9 1214.3 1411.7C1216.7 1411.5 1219.0 1410.8 1221.3 1410.3C1223.7 1409.8 1226.2 1409.6 1228.3 1408.7C1230.4 1407.7 1232.2 1406.1 1234.1 1404.7C1236.1 1403.2 1238.2 1401.8 1239.9 1400.1C1241.9 1398.0 1243.5 1395.5 1245.1 1393.1C1246.6 1390.6 1248.0 1388.0 1249.3 1385.4C1250.5 1382.9 1251.6 1380.3 1252.7 1377.7C1253.7 1375.6 1254.5 1373.4 1255.8 1371.4C1256.7 1370.0 1257.7 1368.5 1259.0 1367.5C1260.1 1366.7 1261.4 1365.8 1262.8 1365.6C1263.6 1365.5 1264.5 1365.7 1265.4 1365.9C1266.4 1366.1 1267.5 1366.5 1268.4 1367.0C1269.9 1367.9 1270.9 1369.6 1271.9 1371.0C1273.9 1373.8 1275.2 1377.1 1276.6 1380.3C1278.6 1385.2 1279.8 1390.4 1281.2 1395.4C1282.9 1401.6 1284.4 1407.8 1285.9 1414.1C1287.1 1419.5 1288.3 1424.9 1289.4 1430.4C1290.6 1436.5 1291.7 1442.8 1292.8 1449.0C1294.0 1455.2 1294.9 1461.5 1296.3 1467.6C1297.7 1473.1 1299.1 1478.6 1301.0 1483.9C1302.4 1487.8 1303.8 1491.8 1305.7 1495.5C1307.0 1498.3 1308.4 1501.2 1310.3 1503.7C1312.0 1505.8 1313.9 1508.0 1316.1 1509.5C1317.9 1510.7 1319.9 1511.8 1321.9 1512.3C1323.8 1512.7 1325.9 1512.8 1327.8 1512.5C1329.8 1512.3 1331.7 1511.5 1333.6 1510.7C1335.6 1509.7 1337.4 1508.2 1339.4 1507.2C1340.9 1506.3 1342.4 1505.2 1344.1 1504.8C1345.5 1504.5 1347.2 1505.0 1348.7 1504.8C1350.3 1504.7 1351.8 1504.1 1353.4 1503.7C1355.7 1503.0 1358.2 1502.4 1360.4 1501.4C1362.9 1500.2 1365.1 1498.4 1367.3 1496.7C1369.8 1494.9 1371.8 1492.6 1374.3 1490.9C1376.5 1489.4 1379.1 1488.4 1381.3 1486.9C1383.7 1485.3 1386.2 1483.6 1388.3 1481.6C1391.0 1478.9 1392.9 1475.4 1395.3 1472.3C1397.6 1469.1 1399.8 1466.0 1402.3 1462.9C1404.5 1460.2 1407.0 1457.6 1409.2 1454.8C1411.7 1451.8 1414.2 1448.8 1416.2 1445.5C1419.1 1440.8 1421.0 1435.5 1423.2 1430.4C1425.8 1424.2 1427.8 1417.9 1430.2 1411.7C1432.5 1405.9 1434.8 1400.1 1437.2 1394.3C1439.5 1388.5 1441.9 1382.7 1444.2 1376.8C1446.5 1370.6 1448.9 1364.4 1451.1 1358.2C1453.6 1351.3 1455.8 1344.2 1458.1 1337.2C1460.4 1330.3 1462.2 1323.1 1465.1 1316.3C1466.2 1313.7 1467.5 1311.2 1468.6 1308.6C1470.5 1304.1 1471.3 1299.2 1473.2 1294.7C1474.6 1291.5 1476.0 1288.2 1477.9 1285.4C1479.3 1283.3 1480.9 1281.4 1482.6 1279.5C1484.0 1277.9 1485.5 1276.3 1487.2 1274.9C1488.9 1273.6 1490.8 1271.3 1492.6 1271.4C1493.9 1271.5 1495.4 1272.7 1496.5 1273.7C1498.4 1275.4 1499.1 1278.3 1500.2 1280.7C1502.2 1285.2 1503.5 1290.0 1505.0 1294.7C1506.8 1300.8 1508.2 1307.1 1509.7 1313.3C1511.4 1320.3 1512.9 1327.3 1514.5 1334.2C1516.1 1341.2 1517.8 1348.2 1519.3 1355.2C1521.0 1362.9 1522.5 1370.7 1524.1 1378.5C1525.7 1386.2 1528.0 1393.9 1528.9 1401.8C1529.5 1407.4 1529.2 1413.1 1529.8 1418.7C1530.5 1425.0 1532.0 1431.1 1533.3 1437.3C1534.7 1444.3 1536.2 1451.4 1538.0 1458.3C1539.4 1463.8 1540.9 1469.2 1542.6 1474.6C1543.9 1478.5 1544.5 1488.4 1546.8 1486.2C1547.2 1485.8 1547.7 1484.6 1548.2 1484.3C1549.3 1483.7 1550.2 1487.5 1551.4 1489.1C1552.6 1490.7 1553.9 1492.3 1555.3 1493.8C1556.6 1495.2 1557.9 1496.5 1559.3 1497.8C1560.6 1499.0 1561.9 1500.2 1563.2 1501.3C1564.5 1502.3 1565.9 1503.1 1567.2 1504.1C1568.5 1505.1 1569.8 1506.2 1571.2 1507.3C1572.5 1508.3 1573.8 1509.4 1575.1 1510.4C1576.4 1511.5 1577.7 1512.6 1579.1 1513.6C1580.3 1514.5 1581.7 1515.2 1583.0 1516.0C1584.3 1516.7 1585.6 1517.4 1587.0 1518.0C1588.3 1518.5 1589.6 1519.1 1590.9 1519.5C1592.2 1520.0 1593.6 1520.2 1594.9 1520.7C1596.0 1521.2 1597.1 1521.7 1598.1 1522.3C1599.2 1523.0 1600.1 1524.0 1601.2 1524.7C1602.2 1525.3 1603.3 1525.9 1604.4 1526.3C1605.5 1526.7 1606.8 1526.8 1608.0 1527.1C1631.9 1526.5 1655.9 1526.0 1679.8 1525.5"/>
<path stroke="#FFB000" d="M1824.4 1521.4C1836.5 1521.0 1848.5 1520.6 1860.5 1520.2C1862.8 1520.8 1865.2 1521.5 1867.5 1522.0C1869.8 1522.5 1872.1 1523.1 1874.5 1523.2C1876.0 1523.3 1877.7 1523.6 1879.1 1523.2C1880.8 1522.8 1882.4 1521.7 1883.8 1520.7C1885.7 1519.2 1887.0 1517.0 1888.5 1515.1C1890.1 1513.0 1891.5 1510.7 1893.1 1508.5C1895.0 1506.1 1897.2 1504.0 1898.9 1501.6C1900.7 1499.0 1902.1 1496.2 1903.6 1493.4C1905.2 1490.4 1906.8 1487.3 1908.2 1484.1C1910.1 1480.0 1911.5 1475.6 1912.9 1471.3C1914.8 1465.2 1916.1 1458.9 1917.6 1452.7C1919.3 1445.0 1920.7 1437.2 1922.2 1429.4C1923.8 1420.9 1925.3 1412.3 1926.9 1403.8C1928.4 1395.3 1929.9 1386.7 1931.5 1378.2C1933.0 1370.4 1934.5 1362.7 1936.2 1354.9C1937.7 1347.9 1939.2 1340.9 1940.8 1334.0C1941.9 1329.3 1943.2 1324.6 1944.3 1319.9C1945.6 1314.6 1946.6 1309.3 1947.8 1304.1C1948.9 1299.4 1949.9 1294.7 1951.3 1290.1C1952.3 1286.6 1953.3 1283.0 1954.8 1279.6C1956.1 1276.8 1957.8 1274.1 1959.5 1271.5C1960.9 1269.1 1962.5 1266.8 1964.1 1264.5C1965.6 1262.5 1967.4 1260.7 1968.8 1258.7C1970.5 1256.1 1972.1 1253.4 1973.4 1250.5C1975.5 1246.1 1976.8 1241.3 1978.1 1236.6C1979.6 1231.2 1980.5 1225.7 1981.6 1220.3C1983.0 1212.6 1984.0 1204.8 1985.1 1197.0C1986.4 1186.9 1987.4 1176.8 1988.5 1166.7C1989.8 1155.9 1990.8 1145.0 1992.0 1134.2C1993.2 1124.1 1994.2 1114.0 1995.5 1103.9C1996.6 1096.1 1997.6 1088.3 1999.0 1080.6C2000.0 1075.2 2001.0 1069.7 2002.5 1064.3C2003.5 1060.8 2004.6 1057.2 2006.0 1053.8C2007.0 1051.5 2007.9 1048.9 2009.5 1046.9C2010.5 1045.6 2011.5 1043.5 2013.0 1043.4C2013.7 1043.3 2014.6 1043.5 2015.3 1043.8C2017.2 1044.6 2017.8 1047.3 2018.8 1049.2C2020.8 1053.1 2021.3 1057.7 2022.3 1062.0C2023.9 1068.9 2024.7 1076.0 2025.8 1082.9C2027.0 1090.7 2028.1 1098.5 2029.3 1106.2C2030.4 1114.0 2031.7 1121.7 2032.8 1129.5C2034.0 1138.0 2035.1 1146.6 2036.3 1155.1C2037.4 1163.6 2038.5 1172.2 2039.8 1180.7C2040.9 1188.5 2042.1 1196.2 2043.2 1204.0C2044.4 1211.7 2045.4 1219.5 2046.7 1227.3C2047.8 1233.5 2049.1 1239.7 2050.2 1245.9C2051.4 1252.1 2052.6 1258.3 2053.7 1264.5C2055.0 1271.5 2056.1 1278.5 2057.2 1285.5C2058.4 1292.4 2059.4 1299.5 2060.7 1306.4C2061.6 1310.9 2062.7 1315.5 2063.5 1320.0C2065.2 1329.3 2066.3 1338.6 2067.7 1347.9C2069.3 1358.8 2070.6 1369.7 2072.3 1380.5C2074.1 1391.4 2076.1 1402.3 2078.2 1413.1C2080.0 1422.4 2082.0 1431.7 2084.0 1441.0C2085.5 1448.0 2087.0 1455.0 2088.6 1462.0C2090.2 1468.6 2091.7 1475.2 2093.3 1481.8C2095.1 1489.2 2097.0 1496.6 2099.1 1503.9C2100.9 1510.1 2102.7 1516.4 2104.9 1522.5C2106.7 1527.2 2108.0 1532.3 2110.8 1536.5C2112.1 1538.5 2113.3 1541.9 2115.4 1542.3C2116.7 1542.6 2118.6 1541.7 2120.1 1541.1C2122.2 1540.3 2124.1 1539.0 2125.9 1537.6C2128.5 1535.7 2130.4 1532.9 2132.9 1530.7C2135.1 1528.6 2137.4 1526.6 2139.9 1524.8C2142.1 1523.3 2144.4 1521.8 2146.8 1520.7C2149.1 1519.5 2151.6 1519.0 2153.8 1517.9C2156.3 1516.6 2158.6 1514.9 2160.8 1513.2C2163.2 1511.4 2165.5 1509.4 2167.8 1507.4C2170.2 1505.3 2172.3 1503.0 2174.8 1501.1C2177.0 1499.4 2179.6 1498.2 2181.8 1496.4C2184.2 1494.5 2186.4 1492.1 2188.7 1489.9C2191.1 1487.6 2193.4 1485.3 2195.7 1482.9C2198.0 1480.6 2200.3 1478.2 2202.7 1476.0C2204.9 1473.9 2207.3 1471.9 2209.7 1470.1C2211.9 1468.5 2214.3 1467.0 2216.7 1465.5C2219.0 1463.9 2221.5 1462.6 2223.6 1460.8C2226.3 1458.5 2228.5 1455.6 2230.6 1452.7C2233.3 1449.1 2235.4 1445.0 2237.6 1441.0C2240.1 1436.5 2242.4 1431.8 2244.6 1427.1C2247.1 1421.7 2249.4 1416.3 2251.6 1410.8C2254.1 1404.6 2256.3 1398.4 2258.6 1392.2C2261.0 1385.2 2263.2 1378.2 2265.5 1371.2C2267.9 1364.2 2270.1 1357.2 2272.5 1350.3C2274.8 1344.0 2276.8 1337.7 2279.5 1331.6C2281.3 1327.7 2283.4 1323.9 2285.3 1320.0"/>
<path stroke="#8F2498" d="M318.2 1510.5C319.5 1505.1 320.9 1499.7 322.1 1494.2C324.1 1485.0 325.1 1475.6 326.8 1466.3C328.2 1458.5 329.1 1450.6 331.4 1443.0C333.0 1437.9 334.1 1432.1 337.2 1427.9C338.9 1425.8 340.7 1423.2 343.1 1422.1C344.5 1421.4 346.1 1421.1 347.7 1420.9C349.0 1420.7 350.4 1420.5 351.7 1420.7C353.2 1421.0 354.6 1421.9 355.9 1422.8C357.4 1423.8 358.8 1425.2 360.1 1426.5C361.6 1428.1 362.9 1429.9 364.2 1431.6C365.6 1433.4 366.9 1435.3 368.0 1437.2C369.2 1439.4 370.1 1441.9 371.2 1444.2C372.3 1446.5 373.4 1448.9 374.5 1451.2C375.6 1453.5 376.7 1455.8 377.7 1458.2C378.9 1460.8 380.0 1463.4 381.0 1466.1C382.0 1468.5 382.9 1471.1 383.8 1473.5C384.7 1475.9 385.7 1478.3 386.6 1480.7C388.4 1485.3 389.6 1490.1 391.9 1494.2C393.6 1497.1 395.3 1500.2 397.8 1502.4C399.5 1504.0 401.5 1505.3 403.6 1506.4C405.4 1507.3 407.4 1508.5 409.4 1508.7C411.3 1508.9 413.5 1508.5 415.2 1507.7C417.5 1506.7 419.1 1504.2 421.0 1502.4C423.0 1500.5 424.6 1498.0 426.9 1496.6C428.6 1495.5 430.7 1494.4 432.7 1494.2C434.6 1494.1 436.7 1494.7 438.5 1495.4C441.1 1496.4 443.2 1498.4 445.5 1500.1C448.3 1502.2 451.1 1504.6 453.6 1507.0C456.6 1509.9 458.8 1513.5 461.8 1516.4C464.0 1518.4 466.0 1521.3 468.8 1522.2C470.5 1522.8 472.7 1523.0 474.6 1522.6C476.6 1522.3 478.6 1521.0 480.4 1519.9C482.5 1518.6 484.1 1516.4 486.2 1515.2C488.3 1514.0 490.8 1513.3 493.2 1512.9C496.2 1512.3 499.5 1513.2 502.5 1512.9C505.7 1512.5 508.8 1511.6 511.8 1510.5C515.1 1509.4 518.1 1507.6 521.1 1505.9C524.3 1504.1 527.6 1502.3 530.4 1500.1C533.0 1498.0 535.3 1495.6 537.4 1493.1C540.1 1489.9 542.4 1486.3 544.4 1482.6C546.8 1478.2 548.5 1473.4 550.2 1468.6C552.5 1462.5 554.1 1456.2 556.1 1450.0C558.0 1443.8 559.9 1437.6 561.9 1431.4C563.8 1425.2 565.5 1418.9 567.7 1412.8C569.5 1407.7 571.3 1402.6 573.5 1397.6C575.3 1393.7 577.2 1389.8 579.3 1386.0C581.1 1382.8 583.0 1379.6 585.1 1376.7C586.9 1374.3 588.8 1371.8 591.0 1369.7C592.8 1368.0 594.7 1366.4 596.8 1365.1C598.6 1363.9 600.7 1363.1 602.6 1362.0C605.0 1360.8 607.2 1359.3 609.6 1358.1C611.9 1356.8 614.2 1355.5 616.6 1354.6C618.5 1353.8 620.4 1353.0 622.4 1352.7C623.9 1352.5 625.6 1352.4 627.0 1352.7C629.1 1353.1 631.0 1354.6 632.9 1355.7C635.4 1357.4 637.5 1359.6 639.9 1361.6C642.2 1363.5 644.6 1365.3 646.8 1367.4C648.9 1369.2 650.9 1371.1 652.7 1373.2C654.4 1375.4 656.0 1377.8 657.3 1380.2C659.3 1383.8 660.5 1387.9 662.0 1391.8C664.0 1397.2 665.8 1402.7 667.8 1408.1C669.7 1413.6 671.5 1419.0 673.6 1424.4C675.4 1429.1 677.2 1433.9 679.4 1438.4C681.2 1442.0 682.7 1445.8 685.2 1448.9C686.9 1450.8 688.8 1454.1 691.1 1454.2C692.5 1454.3 694.4 1453.3 695.7 1452.3C698.2 1450.6 699.0 1447.0 700.4 1444.2C703.0 1438.7 704.4 1432.6 706.2 1426.7C708.5 1419.1 710.2 1411.2 712.0 1403.5C714.0 1395.0 715.6 1386.3 717.8 1377.9C719.6 1371.2 720.7 1364.3 723.6 1358.1C725.3 1354.6 726.5 1350.3 729.5 1348.1C730.8 1347.1 732.6 1345.7 734.1 1345.7C735.7 1345.7 737.4 1347.1 738.8 1348.1C742.0 1350.5 742.9 1355.4 744.6 1359.2C747.0 1364.5 748.6 1370.1 750.4 1375.5C752.5 1381.7 754.1 1388.0 756.2 1394.2C758.0 1399.2 758.7 1405.2 762.1 1409.3C763.7 1411.3 765.9 1414.8 767.9 1414.6C769.4 1414.5 771.2 1412.0 772.5 1410.4C775.8 1406.7 776.4 1401.1 778.4 1396.5C780.3 1391.8 781.8 1387.0 784.2 1382.5C785.9 1379.3 787.1 1375.2 790.0 1373.2C791.6 1372.1 793.8 1370.9 795.8 1370.9C797.2 1370.9 798.8 1371.4 800.0 1372.0C802.9 1373.7 803.3 1378.5 804.7 1381.9C806.7 1387.1 807.8 1392.7 809.3 1398.2C811.0 1404.4 812.4 1410.6 814.0 1416.8C815.5 1423.0 817.0 1429.3 818.6 1435.4C820.1 1440.9 821.4 1446.4 823.3 1451.7C825.0 1456.5 826.7 1461.3 829.1 1465.7C830.8 1468.9 832.5 1472.3 834.9 1475.0C836.9 1477.2 839.3 1479.3 841.9 1480.8C843.7 1482.0 845.7 1483.4 847.7 1483.6C849.2 1483.8 851.0 1483.7 852.4 1483.2C854.5 1482.3 855.7 1479.4 857.0 1477.3C859.2 1473.9 860.3 1469.6 861.7 1465.7C863.6 1460.4 864.8 1454.8 866.3 1449.4C867.9 1444.0 869.3 1438.5 871.0 1433.1C872.5 1428.4 873.7 1423.7 875.7 1419.2C877.0 1416.0 878.1 1412.5 880.3 1409.8C881.6 1408.3 883.1 1406.4 885.0 1405.7C886.3 1405.1 888.2 1404.8 889.6 1405.2C891.5 1405.7 893.0 1407.8 894.3 1409.4C896.5 1412.1 897.5 1415.8 898.9 1419.2C901.2 1424.4 903.0 1430.0 904.7 1435.4C907.0 1442.3 908.7 1449.4 910.6 1456.4C912.6 1464.1 914.4 1471.9 916.4 1479.7C918.3 1487.4 920.2 1495.2 922.2 1503.0C924.1 1510.0 926.1 1516.9 928.0 1523.9C930.0 1530.9 931.8 1537.9 933.8 1544.9C935.7 1551.1 937.3 1557.4 939.7 1563.5C941.4 1567.8 942.8 1572.5 945.5 1576.3C946.8 1578.2 948.1 1581.1 950.1 1581.6C951.5 1582.0 953.4 1581.5 954.8 1580.9C956.7 1580.1 958.0 1577.9 959.5 1576.3C961.2 1574.3 962.0 1571.5 964.1 1570.0C965.3 1569.2 966.8 1568.1 968.1 1568.1C969.5 1568.1 971.0 1569.5 972.3 1570.5C974.2 1571.9 975.3 1574.4 976.9 1576.3C978.4 1578.1 979.7 1580.3 981.6 1581.6C982.9 1582.6 984.6 1583.7 986.2 1584.0C987.7 1584.2 989.4 1583.7 990.9 1583.3C993.0 1582.6 994.7 1580.8 996.7 1579.8C998.6 1578.8 1000.8 1578.6 1002.5 1577.4C1005.0 1575.8 1006.8 1573.0 1008.3 1570.5C1010.9 1566.3 1011.6 1561.2 1013.0 1556.5C1014.8 1550.4 1016.1 1544.1 1017.6 1537.9C1019.2 1531.7 1020.4 1525.4 1022.3 1519.2C1024.0 1513.7 1026.3 1508.4 1028.1 1503.0C1030.2 1496.8 1032.2 1490.6 1033.9 1484.3C1036.3 1475.9 1038.1 1467.3 1039.8 1458.7C1041.6 1449.5 1043.0 1440.1 1044.4 1430.8C1046.1 1419.9 1047.4 1409.0 1049.1 1398.2C1050.5 1388.9 1051.5 1379.4 1053.7 1370.3C1055.0 1364.8 1055.7 1358.8 1058.4 1354.0C1059.7 1351.7 1060.9 1347.7 1063.0 1347.5C1064.4 1347.3 1066.3 1348.5 1067.7 1349.3C1070.0 1350.7 1071.6 1353.2 1073.5 1355.1C1075.5 1357.1 1077.6 1358.8 1079.3 1361.0C1081.1 1363.1 1082.6 1365.5 1084.0 1367.9C1086.2 1371.7 1087.3 1376.1 1089.8 1379.6C1091.2 1381.5 1092.7 1384.9 1094.5 1384.9C1095.9 1385.0 1097.8 1383.1 1099.1 1381.9C1102.5 1378.7 1102.5 1372.7 1103.8 1367.9C1105.4 1361.9 1106.0 1355.5 1107.3 1349.3C1108.7 1342.3 1110.1 1335.3 1111.9 1328.4C1113.3 1322.9 1114.4 1317.3 1116.6 1312.1C1117.9 1308.9 1119.9 1305.9 1121.2 1302.8C1123.2 1298.3 1124.4 1293.5 1125.9 1288.8C1127.6 1283.4 1128.8 1277.9 1130.5 1272.5C1132.0 1268.2 1132.8 1263.5 1135.2 1259.7C1136.2 1258.1 1137.1 1256.1 1138.7 1255.0C1139.5 1254.5 1140.7 1253.8 1141.5 1253.9C1142.7 1254.0 1143.6 1256.1 1144.5 1257.4C1147.1 1261.0 1147.8 1265.9 1149.2 1270.2C1151.1 1276.3 1152.4 1282.6 1153.8 1288.8C1155.6 1296.5 1157.0 1304.3 1158.5 1312.1C1160.1 1320.6 1161.6 1329.1 1163.1 1337.7C1164.8 1347.0 1166.3 1356.3 1167.8 1365.6C1169.5 1376.5 1170.9 1387.3 1172.4 1398.2C1174.0 1409.1 1175.4 1419.9 1177.1 1430.8C1178.5 1440.1 1179.8 1449.5 1181.8 1458.7C1183.1 1465.0 1184.2 1471.4 1186.4 1477.3C1187.7 1480.9 1188.8 1484.8 1191.1 1487.8C1192.4 1489.5 1193.8 1491.8 1195.7 1492.5C1197.1 1492.9 1199.0 1492.1 1200.4 1492.5C1202.1 1493.0 1203.4 1494.9 1205.0 1496.0C1206.5 1497.0 1208.1 1498.8 1209.7 1498.8C1211.2 1498.8 1213.1 1497.2 1214.3 1496.0C1216.6 1493.8 1216.8 1489.8 1217.8 1486.7C1220.0 1479.9 1221.1 1472.7 1222.5 1465.7C1224.3 1456.5 1225.7 1447.1 1227.1 1437.8C1228.8 1426.9 1230.2 1416.0 1231.8 1405.2C1233.5 1393.2 1235.6 1381.2 1237.0 1369.2C1239.1 1349.9 1239.3 1330.4 1240.5 1311.0C1241.6 1291.6 1242.8 1272.2 1244.0 1252.8C1245.1 1234.2 1246.2 1215.5 1247.5 1196.9C1248.6 1179.8 1249.6 1162.8 1250.9 1145.7C1252.0 1131.7 1253.1 1117.7 1254.4 1103.8C1255.5 1092.9 1256.2 1082.0 1257.9 1071.2C1258.9 1065.0 1258.7 1058.2 1261.4 1052.6C1262.4 1050.6 1263.8 1046.6 1264.9 1046.8C1265.8 1046.9 1266.9 1049.8 1267.7 1051.4C1269.9 1056.0 1269.9 1061.5 1270.7 1066.6C1272.4 1076.6 1273.1 1086.7 1274.2 1096.8C1275.5 1108.4 1276.6 1120.1 1277.7 1131.7C1279.0 1145.7 1280.1 1159.7 1281.2 1173.6C1282.4 1189.1 1283.6 1204.7 1284.7 1220.2C1285.9 1237.3 1287.1 1254.3 1288.2 1271.4C1289.2 1287.7 1290.0 1304.0 1291.0 1320.3C1291.9 1335.8 1293.2 1351.3 1294.0 1366.8C1295.1 1386.4 1295.2 1406.1 1296.3 1425.7C1297.2 1439.7 1298.1 1453.6 1299.4 1467.6C1300.3 1478.5 1300.5 1489.5 1302.6 1500.2C1303.7 1505.7 1304.3 1511.6 1306.8 1516.5C1308.1 1518.9 1310.1 1521.1 1311.5 1523.5C1313.2 1526.4 1314.6 1529.6 1316.1 1532.8C1317.8 1536.2 1318.9 1539.9 1320.8 1543.2C1322.2 1545.7 1323.3 1548.6 1325.4 1550.2C1326.5 1551.0 1327.8 1552.2 1328.9 1552.1C1330.2 1552.0 1331.4 1550.2 1332.4 1549.1C1334.3 1546.9 1334.9 1543.7 1335.9 1540.9C1337.2 1537.5 1337.8 1533.7 1339.4 1530.4C1340.4 1528.4 1341.4 1526.3 1342.9 1524.6C1344.2 1523.2 1345.8 1522.0 1347.6 1521.1C1349.0 1520.4 1350.7 1520.2 1352.2 1519.5C1353.9 1518.7 1355.5 1517.7 1356.9 1516.5C1359.1 1514.4 1360.2 1511.2 1361.5 1508.3C1363.0 1505.0 1364.0 1501.4 1365.0 1497.9C1366.4 1493.3 1367.1 1488.5 1368.5 1483.9C1369.5 1480.4 1370.6 1476.8 1372.0 1473.4C1373.3 1470.2 1374.7 1467.0 1376.6 1464.1C1378.3 1461.6 1380.7 1459.6 1382.5 1457.1C1384.6 1454.2 1386.7 1451.1 1388.3 1447.8C1390.3 1443.8 1391.5 1439.3 1392.9 1435.0C1394.7 1429.6 1395.7 1424.0 1397.6 1418.7C1399.0 1414.8 1400.2 1410.7 1402.3 1407.1C1403.6 1404.6 1405.2 1402.3 1406.9 1400.1C1408.7 1397.7 1410.8 1395.5 1412.7 1393.1C1414.3 1391.2 1416.1 1389.4 1417.4 1387.3C1420.1 1382.9 1420.7 1377.2 1422.0 1372.2C1423.9 1365.3 1425.1 1358.2 1426.7 1351.2C1428.2 1344.2 1429.3 1337.1 1431.4 1330.3C1432.4 1326.7 1433.5 1323.2 1434.8 1319.8C1436.2 1316.2 1437.8 1312.7 1439.5 1309.3C1441.0 1306.3 1442.7 1303.5 1444.2 1300.5C1445.4 1297.8 1446.6 1295.1 1447.6 1292.3C1449.1 1288.6 1450.2 1284.6 1451.1 1280.7C1452.4 1275.4 1453.2 1269.9 1453.9 1264.4C1455.0 1256.7 1455.5 1248.9 1456.3 1241.1C1457.4 1229.5 1458.3 1217.9 1459.3 1206.2C1460.5 1192.3 1461.6 1178.3 1462.8 1164.3C1464.0 1149.6 1465.1 1134.8 1466.3 1120.1C1467.4 1105.4 1468.6 1090.6 1469.8 1075.9C1470.9 1061.1 1469.9 1046.0 1473.2 1031.6C1474.2 1027.7 1475.7 1023.9 1476.5 1020.0C1477.8 1013.6 1477.7 1006.9 1478.2 1000.4C1478.8 993.8 1479.3 987.2 1480.0 980.6C1480.5 975.6 1480.9 970.5 1481.7 965.5C1482.4 961.6 1483.3 957.7 1484.1 953.8C1484.9 949.2 1485.6 944.5 1486.4 939.9C1487.1 935.6 1487.5 931.2 1488.7 927.1C1489.4 924.9 1489.8 922.5 1491.0 920.7C1491.5 920.1 1491.9 918.9 1492.4 918.9C1492.9 918.9 1493.5 919.8 1494.0 920.3C1495.2 921.8 1495.2 924.0 1495.7 925.9C1496.6 929.3 1496.9 932.9 1497.4 936.4C1498.1 940.6 1498.6 944.9 1499.2 949.2C1499.8 953.5 1500.4 957.7 1500.9 962.0C1501.6 967.0 1502.1 972.1 1502.7 977.1C1503.3 982.9 1503.9 988.8 1504.4 994.6C1505.2 1003.0 1505.6 1011.5 1506.2 1020.0C1506.9 1031.6 1507.5 1043.3 1508.2 1054.9C1509.0 1070.4 1509.6 1086.0 1510.5 1101.5C1511.4 1117.0 1512.5 1132.5 1513.5 1148.0C1514.6 1163.5 1515.7 1179.1 1516.8 1194.6C1517.8 1210.1 1518.6 1225.6 1519.8 1241.1C1520.7 1252.8 1522.0 1264.4 1523.0 1276.1C1524.0 1287.7 1524.9 1299.3 1526.0 1311.0C1527.1 1322.6 1528.5 1334.2 1529.7 1345.9C1531.0 1357.5 1532.3 1369.1 1533.5 1380.8C1534.7 1394.2 1535.4 1407.7 1536.8 1421.0C1537.8 1430.4 1538.9 1439.7 1540.3 1449.0C1541.3 1456.0 1542.4 1463.0 1543.8 1469.9C1544.7 1474.6 1545.7 1479.3 1546.8 1483.9C1547.5 1486.7 1547.9 1489.6 1549.0 1492.2C1549.7 1493.9 1550.2 1495.7 1551.4 1497.0C1552.0 1497.7 1552.8 1498.6 1553.7 1499.0C1554.5 1499.3 1555.3 1499.4 1556.1 1499.4C1556.9 1499.3 1557.8 1499.0 1558.5 1498.6C1559.4 1498.1 1560.1 1497.2 1560.9 1496.6C1561.7 1495.9 1562.3 1495.0 1563.2 1494.6C1564.0 1494.3 1564.8 1494.0 1565.6 1494.0C1566.4 1493.9 1567.2 1494.0 1568.0 1494.2C1568.8 1494.4 1569.7 1494.9 1570.4 1495.4C1571.3 1496.1 1571.9 1497.3 1572.7 1498.2C1573.8 1499.4 1574.8 1500.6 1575.9 1501.7C1576.9 1502.8 1577.9 1504.1 1579.1 1504.9C1580.0 1505.6 1581.1 1506.2 1582.2 1506.5C1583.2 1506.7 1584.4 1506.8 1585.4 1506.6C1586.5 1506.5 1587.5 1506.1 1588.6 1505.7C1589.6 1505.3 1590.6 1504.7 1591.7 1504.3C1592.8 1503.9 1593.8 1503.4 1594.9 1503.3C1595.7 1503.2 1596.5 1503.1 1597.3 1503.3C1598.1 1503.5 1598.9 1504.0 1599.6 1504.5C1600.6 1505.2 1601.3 1506.3 1602.0 1507.3C1603.2 1508.8 1603.9 1510.7 1604.8 1512.4C1605.8 1514.4 1606.9 1516.4 1608.0 1518.4C1631.9 1526.0 1655.9 1533.7 1679.8 1541.3"/>
<path stroke="#8F2498" d="M1824.4 1588.9C1836.6 1593.0 1848.8 1597.1 1861.0 1601.2C1862.8 1602.9 1864.6 1604.6 1866.3 1606.3C1867.9 1607.8 1869.1 1610.0 1871.0 1611.0C1872.2 1611.6 1873.8 1612.3 1875.0 1612.1C1876.4 1611.9 1877.7 1610.0 1878.7 1608.6C1880.6 1606.1 1881.0 1602.5 1881.9 1599.3C1883.3 1594.8 1884.1 1590.0 1885.0 1585.4C1886.4 1577.7 1887.1 1569.9 1888.0 1562.1C1889.1 1552.8 1889.9 1543.5 1890.8 1534.2C1891.8 1523.3 1892.7 1512.4 1893.6 1501.6C1894.6 1489.2 1895.6 1476.7 1896.6 1464.3C1897.6 1451.1 1898.7 1437.9 1899.6 1424.7C1900.5 1411.6 1901.2 1398.4 1902.0 1385.2C1902.7 1371.2 1903.4 1357.2 1904.1 1343.3C1905.7 1310.8 1907.4 1278.4 1908.9 1245.9C1910.0 1222.6 1911.0 1199.3 1912.0 1176.1C1913.0 1152.8 1914.0 1129.5 1915.0 1106.2C1916.0 1082.9 1916.8 1059.7 1917.8 1036.4C1918.6 1017.0 1919.6 997.6 1920.6 978.2C1921.5 958.8 1922.4 939.3 1923.4 919.9C1924.4 899.1 1925.8 878.3 1926.9 857.5C1928.1 834.2 1929.1 811.0 1930.4 787.7C1931.4 768.3 1932.7 748.9 1933.8 729.5C1935.0 710.1 1936.0 690.7 1937.3 671.3C1938.7 651.9 1940.4 632.5 1942.0 613.1C1943.5 595.3 1944.4 577.3 1946.6 559.6C1947.5 553.0 1948.7 546.5 1949.4 539.9C1950.6 529.3 1950.6 518.5 1951.3 507.8C1952.0 497.7 1952.5 487.6 1953.6 477.5C1954.4 470.5 1955.2 463.5 1956.4 456.6C1957.3 451.9 1958.1 447.1 1959.5 442.6C1960.4 439.4 1961.5 436.2 1962.9 433.3C1964.0 431.3 1965.4 429.5 1966.4 427.5C1968.0 424.2 1968.9 420.5 1969.9 417.0C1971.4 411.7 1972.4 406.2 1973.4 400.7C1974.4 395.3 1975.1 389.9 1975.7 384.4C1976.7 376.7 1977.4 368.9 1978.1 361.1C1978.9 351.8 1979.7 342.5 1980.4 333.2C1981.2 323.1 1981.9 313.0 1982.7 302.9C1983.5 293.6 1984.3 284.3 1985.1 275.0C1985.9 264.9 1986.5 254.8 1987.4 244.7C1988.1 236.2 1988.8 227.7 1989.7 219.1C1990.4 212.9 1991.0 206.7 1992.0 200.5C1992.9 195.8 1993.5 191.0 1995.1 186.6C1995.9 184.3 1996.0 181.4 1997.9 180.0C1998.3 179.7 1999.0 179.2 1999.5 179.1C2000.7 178.9 2001.4 181.7 2002.0 183.1C2003.5 185.9 2003.7 189.2 2004.4 192.4C2005.4 197.4 2006.0 202.5 2006.7 207.5C2007.9 216.0 2008.6 224.6 2009.5 233.1C2010.5 243.2 2011.4 253.3 2012.3 263.4C2013.4 275.8 2014.4 288.2 2015.3 300.6C2016.4 315.3 2017.4 330.1 2018.3 344.8C2019.4 361.1 2020.2 377.4 2021.1 393.7C2021.9 407.7 2022.7 421.7 2023.5 435.6C2024.1 448.8 2024.7 462.0 2025.3 475.2C2025.9 487.6 2026.5 500.0 2027.0 512.4C2027.7 530.5 2028.1 548.5 2028.8 566.6C2029.5 586.0 2030.3 605.4 2031.1 624.7C2031.9 640.3 2032.7 655.8 2033.5 671.3C2034.2 686.8 2035.0 702.3 2035.8 717.9C2036.6 733.4 2037.4 748.9 2038.1 764.4C2038.9 779.9 2039.7 795.5 2040.5 811.0C2041.2 826.5 2042.1 842.0 2042.8 857.5C2043.5 873.0 2044.1 888.6 2044.6 904.1C2045.3 921.0 2045.5 938.0 2046.3 954.9C2047.2 974.3 2048.6 993.7 2049.8 1013.1C2050.9 1032.5 2052.1 1051.9 2053.3 1071.3C2054.4 1090.7 2055.5 1110.1 2056.8 1129.5C2057.9 1147.3 2059.1 1165.2 2060.2 1183.0C2061.4 1200.1 2062.5 1217.2 2063.7 1234.2C2064.8 1249.8 2066.1 1265.3 2067.2 1280.8C2068.2 1293.9 2068.8 1307.0 2070.0 1320.0C2071.3 1334.0 2073.1 1347.9 2074.7 1361.9C2076.2 1375.1 2077.7 1388.3 2079.3 1401.5C2080.8 1413.9 2082.5 1426.3 2084.0 1438.7C2085.6 1451.9 2087.0 1465.1 2088.6 1478.3C2090.1 1489.9 2091.6 1501.6 2093.3 1513.2C2094.8 1523.3 2096.0 1533.4 2098.0 1543.5C2099.3 1550.5 2100.6 1557.5 2102.6 1564.4C2104.0 1569.1 2104.5 1574.5 2107.3 1578.4C2108.8 1580.6 2111.0 1584.4 2113.1 1584.2C2114.6 1584.1 2116.4 1582.0 2117.7 1580.7C2120.5 1578.0 2121.7 1573.8 2123.6 1570.2C2125.7 1566.1 2127.3 1561.6 2129.4 1557.4C2131.2 1553.9 2132.9 1550.2 2135.2 1547.0C2136.9 1544.5 2138.6 1541.8 2141.0 1540.0C2142.7 1538.7 2144.8 1537.5 2146.8 1536.9C2148.7 1536.4 2150.8 1536.3 2152.7 1536.5C2154.6 1536.7 2156.5 1537.8 2158.5 1538.3C2160.4 1538.9 2162.3 1539.9 2164.3 1540.0C2166.2 1540.0 2168.4 1539.6 2170.1 1538.8C2172.5 1537.7 2174.2 1535.1 2175.9 1533.0C2178.6 1529.8 2180.8 1526.1 2182.9 1522.5C2185.6 1518.0 2187.6 1513.2 2189.9 1508.5C2192.3 1503.5 2194.3 1498.4 2196.9 1493.4C2199.5 1488.3 2202.8 1483.4 2205.5 1478.3C2208.3 1473.0 2210.8 1467.5 2213.2 1462.0C2216.1 1455.2 2218.5 1448.1 2220.9 1441.0C2223.4 1433.4 2225.6 1425.5 2227.8 1417.8C2230.1 1410.0 2232.4 1402.3 2234.4 1394.5C2236.7 1385.2 2238.5 1375.9 2240.6 1366.6C2242.4 1358.8 2244.3 1351.0 2246.0 1343.3C2247.7 1335.5 2249.6 1327.7 2251.1 1319.9C2253.4 1307.7 2254.4 1295.4 2256.2 1283.1C2258.1 1270.7 2260.2 1258.3 2262.1 1245.9C2264.1 1232.7 2265.9 1219.5 2267.9 1206.3C2269.4 1196.2 2270.9 1186.1 2272.5 1176.1C2274.0 1166.7 2275.5 1157.4 2277.2 1148.1C2278.5 1141.1 2279.8 1134.1 2281.4 1127.2C2282.6 1121.6 2284.0 1116.0 2285.3 1110.4"/>
<path stroke="#55AD20" d="M318.2 1516.4C319.5 1510.5 320.9 1504.7 322.1 1498.9C323.8 1491.2 325.0 1483.3 326.8 1475.6C328.2 1469.4 329.4 1463.0 331.4 1457.0C333.0 1452.2 334.3 1447.0 337.2 1443.0C338.9 1440.9 340.7 1438.3 343.1 1437.2C344.8 1436.4 346.9 1436.4 348.9 1436.1C350.1 1435.9 351.5 1435.3 352.6 1435.6C353.8 1435.8 354.8 1436.9 355.9 1437.7C357.1 1438.6 358.4 1439.5 359.6 1440.5C360.9 1441.6 362.1 1442.9 363.3 1444.2C364.6 1445.7 365.9 1447.2 367.0 1448.9C368.2 1450.5 369.3 1452.2 370.3 1454.0C371.5 1455.9 372.4 1458.0 373.6 1460.0C374.6 1461.9 375.8 1463.7 376.8 1465.6C377.9 1467.6 379.0 1469.6 380.1 1471.7C381.2 1473.8 382.2 1476.0 383.3 1478.2C385.0 1481.6 386.5 1485.1 388.5 1488.4C390.5 1491.9 392.8 1495.4 395.4 1498.4C397.6 1500.9 399.8 1503.5 402.4 1505.4C404.2 1506.7 406.2 1508.5 408.2 1508.7C410.1 1508.9 412.3 1508.0 414.1 1507.0C416.4 1505.8 418.0 1503.2 419.9 1501.2C422.3 1498.6 424.0 1495.1 426.9 1493.1C428.6 1491.9 430.6 1490.6 432.7 1490.3C434.5 1490.0 436.6 1490.3 438.5 1490.8C441.0 1491.4 443.2 1492.9 445.5 1494.2C447.9 1495.6 450.4 1497.1 452.5 1498.9C455.3 1501.5 457.1 1505.1 459.5 1508.2C461.8 1511.3 463.6 1515.0 466.4 1517.5C468.5 1519.4 470.9 1521.2 473.4 1522.2C475.9 1523.1 478.8 1523.2 481.6 1523.3C484.7 1523.5 487.8 1522.6 490.9 1522.6C494.0 1522.6 497.1 1523.7 500.2 1523.3C502.9 1523.0 505.8 1522.2 508.3 1521.0C511.3 1519.6 513.8 1517.2 516.5 1515.2C519.6 1512.9 522.6 1510.4 525.8 1508.2C528.8 1506.1 532.4 1504.8 535.1 1502.4C537.8 1500.1 540.0 1497.1 542.1 1494.2C544.8 1490.6 547.0 1486.6 549.1 1482.6C551.8 1477.4 553.8 1471.8 556.1 1466.3C558.5 1460.5 560.6 1454.6 563.0 1448.9C565.3 1443.4 567.6 1438.0 570.0 1432.6C572.3 1427.5 574.6 1422.4 577.0 1417.4C579.3 1412.7 581.4 1408.0 584.0 1403.5C585.8 1400.3 587.5 1397.0 589.8 1394.2C591.5 1392.0 593.4 1389.8 595.6 1388.3C597.7 1386.9 600.2 1386.1 602.6 1385.3C605.6 1384.4 608.8 1384.1 611.9 1383.7C615.0 1383.3 618.2 1382.7 621.2 1383.0C623.6 1383.2 626.0 1383.6 628.2 1384.4C630.7 1385.3 632.9 1386.9 635.2 1388.3C637.6 1389.8 639.9 1391.4 642.2 1393.0C644.5 1394.5 647.0 1395.9 649.2 1397.6C651.3 1399.4 653.3 1401.3 655.0 1403.5C657.4 1406.6 659.1 1410.3 660.8 1413.9C663.1 1418.8 664.7 1424.0 666.6 1429.1C668.6 1434.5 670.3 1440.0 672.4 1445.4C674.2 1449.7 676.0 1454.1 678.3 1458.2C680.0 1461.4 681.5 1465.0 684.1 1467.5C686.0 1469.4 688.6 1472.1 691.1 1472.1C692.9 1472.2 695.3 1470.9 696.9 1469.8C700.0 1467.6 701.0 1462.9 702.7 1459.3C705.1 1454.1 706.7 1448.5 708.5 1443.0C710.6 1436.9 712.3 1430.6 714.3 1424.4C716.2 1418.6 717.6 1412.5 720.2 1407.0C721.8 1403.3 723.3 1399.4 726.0 1396.5C727.6 1394.7 729.6 1392.6 731.8 1391.8C733.6 1391.2 735.8 1390.9 737.6 1391.4C739.8 1391.9 741.8 1393.7 743.4 1395.3C746.2 1398.0 747.5 1402.2 749.3 1405.8C751.5 1410.3 752.9 1415.2 755.1 1419.8C756.8 1423.3 758.1 1427.5 760.9 1430.2C762.5 1431.8 764.7 1434.1 766.7 1434.2C768.6 1434.3 770.9 1432.7 772.5 1431.4C775.8 1428.9 776.6 1423.7 778.4 1419.8C780.7 1414.5 782.0 1408.8 784.2 1403.5C785.9 1399.1 787.1 1394.2 790.0 1390.7C791.6 1388.7 793.4 1386.1 795.8 1385.3C797.1 1384.9 798.8 1384.5 800.0 1384.8C802.2 1385.4 803.3 1389.0 804.7 1391.2C806.8 1394.8 808.0 1398.9 809.3 1402.9C811.4 1408.9 812.5 1415.3 814.0 1421.5C815.6 1428.4 817.0 1435.5 818.6 1442.4C820.1 1448.7 821.2 1455.0 823.3 1461.1C824.9 1465.8 826.7 1470.6 829.1 1475.0C830.8 1478.2 833.0 1481.2 834.9 1484.3C836.9 1487.4 838.8 1490.5 840.7 1493.6C842.7 1496.7 844.1 1500.3 846.6 1503.0C847.9 1504.5 849.4 1506.4 851.2 1507.1C852.6 1507.7 854.4 1507.9 855.9 1507.6C857.6 1507.2 859.2 1505.4 860.5 1504.1C863.1 1501.6 864.4 1497.9 866.3 1494.8C868.3 1491.7 870.0 1488.4 872.2 1485.5C874.3 1482.6 876.4 1479.5 879.1 1477.3C880.9 1476.0 882.9 1474.7 885.0 1473.9C886.4 1473.3 888.2 1472.5 889.6 1472.7C891.4 1473.0 892.8 1474.9 894.3 1476.2C896.5 1478.2 898.2 1480.8 900.1 1483.2C902.1 1485.8 904.1 1488.5 905.9 1491.3C908.1 1494.7 909.7 1498.4 911.7 1501.8C913.6 1504.9 915.4 1508.2 917.6 1511.1C919.3 1513.5 921.1 1516.1 923.4 1518.1C925.4 1519.9 927.8 1521.8 930.4 1522.7C932.5 1523.5 935.0 1523.9 937.3 1523.9C939.7 1523.9 942.2 1523.5 944.3 1522.7C946.9 1521.8 949.2 1519.9 951.3 1518.1C953.5 1516.1 954.7 1512.8 957.1 1511.1C958.5 1510.1 960.2 1508.8 961.8 1508.8C963.3 1508.8 965.1 1510.1 966.4 1511.1C969.0 1513.2 969.7 1517.2 971.1 1520.4C972.9 1524.6 974.1 1529.0 975.7 1533.2C977.2 1537.1 978.6 1541.1 980.4 1544.9C982.1 1548.4 983.6 1552.4 986.2 1555.3C988.2 1557.6 990.6 1559.7 993.2 1561.1C995.3 1562.3 997.8 1562.9 1000.2 1563.5C1002.5 1564.0 1005.0 1565.1 1007.2 1564.6C1008.8 1564.3 1010.5 1563.3 1011.8 1562.3C1014.4 1560.2 1015.1 1556.2 1016.5 1553.0C1018.3 1548.8 1019.6 1544.5 1021.1 1540.2C1023.1 1534.8 1024.9 1529.3 1027.0 1523.9C1028.8 1519.2 1030.9 1514.6 1032.8 1509.9C1034.9 1504.6 1036.8 1499.1 1038.6 1493.6C1040.8 1486.7 1042.5 1479.7 1044.4 1472.7C1046.4 1465.7 1048.1 1458.7 1050.2 1451.7C1051.7 1447.1 1052.5 1442.0 1054.9 1437.8C1056.2 1435.5 1057.2 1432.2 1059.5 1431.3C1060.6 1430.9 1062.0 1430.6 1063.0 1430.8C1064.8 1431.1 1066.3 1433.0 1067.7 1434.3C1069.9 1436.3 1071.6 1438.9 1073.5 1441.3C1075.5 1443.6 1077.6 1445.8 1079.3 1448.2C1081.6 1451.5 1083.3 1455.2 1085.1 1458.7C1087.2 1462.6 1088.5 1466.8 1091.0 1470.4C1092.4 1472.4 1093.5 1475.0 1095.6 1476.2C1096.7 1476.8 1098.1 1477.4 1099.1 1477.3C1101.4 1477.3 1102.5 1472.8 1103.8 1470.4C1106.1 1466.1 1106.9 1461.1 1108.4 1456.4C1110.0 1451.7 1111.1 1446.9 1113.1 1442.4C1114.7 1438.8 1117.1 1435.5 1118.9 1432.0C1121.0 1427.8 1122.9 1423.5 1124.7 1419.2C1126.9 1413.8 1128.7 1408.3 1130.5 1402.9C1132.1 1398.2 1133.4 1393.5 1135.2 1388.9C1136.6 1385.3 1137.3 1381.1 1139.9 1378.4C1141.1 1377.0 1142.9 1375.0 1144.5 1374.9C1146.0 1374.8 1147.9 1376.2 1149.2 1377.3C1151.5 1379.1 1152.4 1382.6 1153.8 1385.4C1156.0 1389.5 1157.7 1393.9 1159.6 1398.2C1161.6 1402.5 1163.8 1406.6 1165.5 1411.0C1167.3 1415.9 1168.7 1421.0 1170.1 1426.1C1172.0 1433.0 1173.3 1440.1 1174.8 1447.1C1176.4 1454.8 1177.7 1462.6 1179.4 1470.4C1180.8 1476.6 1182.0 1482.9 1184.1 1489.0C1185.4 1492.9 1186.1 1497.5 1188.7 1500.6C1190.0 1502.2 1191.5 1504.4 1193.4 1504.8C1194.8 1505.1 1196.6 1503.9 1198.0 1504.1C1199.7 1504.3 1201.3 1505.5 1202.7 1506.4C1204.5 1507.7 1205.6 1509.9 1207.4 1511.1C1208.8 1512.1 1210.7 1513.5 1212.0 1513.4C1214.0 1513.3 1215.4 1509.7 1216.7 1507.6C1219.2 1503.5 1219.8 1498.3 1221.3 1493.6C1223.3 1487.5 1225.4 1481.3 1227.1 1475.0C1229.3 1467.3 1231.2 1459.5 1233.0 1451.7C1235.1 1442.5 1237.1 1433.2 1238.8 1423.8C1240.9 1411.9 1242.3 1399.8 1243.7 1387.8C1245.1 1376.9 1246.1 1366.1 1247.2 1355.2C1248.4 1344.3 1249.5 1333.5 1250.7 1322.6C1251.8 1313.3 1252.7 1303.9 1254.2 1294.7C1255.2 1288.4 1256.1 1282.1 1257.7 1276.1C1258.6 1272.5 1259.0 1268.6 1261.0 1265.6C1261.9 1264.1 1263.3 1261.3 1264.5 1261.4C1265.6 1261.4 1266.8 1264.1 1267.7 1265.6C1270.0 1269.3 1270.4 1274.1 1271.4 1278.4C1273.2 1285.3 1274.2 1292.3 1275.4 1299.3C1276.7 1307.1 1277.8 1314.8 1278.9 1322.6C1280.1 1331.1 1281.3 1339.7 1282.4 1348.2C1283.6 1357.5 1284.7 1366.8 1285.9 1376.1C1287.0 1385.5 1288.5 1394.7 1289.4 1404.1C1290.3 1414.4 1290.1 1424.7 1291.0 1435.0C1291.9 1445.9 1293.2 1456.8 1294.7 1467.6C1295.9 1476.2 1296.9 1484.8 1298.7 1493.2C1299.8 1498.7 1300.5 1504.4 1302.6 1509.5C1303.8 1512.3 1304.5 1515.9 1306.8 1517.6C1307.8 1518.4 1309.2 1519.4 1310.3 1519.3C1311.6 1519.2 1312.7 1517.5 1313.8 1516.5C1315.6 1514.8 1317.0 1512.7 1318.5 1510.7C1320.2 1508.1 1321.8 1505.3 1323.1 1502.5C1325.2 1498.1 1326.4 1493.2 1327.8 1488.5C1329.6 1482.4 1331.0 1476.2 1332.4 1469.9C1333.7 1464.5 1334.3 1458.9 1335.9 1453.6C1336.9 1450.5 1337.6 1447.0 1339.4 1444.3C1340.4 1442.9 1341.4 1441.1 1342.9 1440.4C1343.9 1439.9 1345.4 1439.4 1346.4 1439.7C1347.8 1440.0 1348.8 1441.9 1349.9 1443.2C1351.3 1444.9 1352.3 1447.0 1353.4 1449.0C1354.6 1451.3 1355.4 1453.8 1356.9 1456.0C1357.9 1457.5 1358.8 1459.5 1360.4 1460.1C1361.4 1460.6 1362.8 1460.8 1363.8 1460.6C1365.1 1460.4 1366.1 1459.0 1367.3 1458.3C1368.5 1457.6 1369.6 1456.6 1370.8 1456.4C1371.9 1456.3 1373.2 1456.7 1374.3 1457.1C1376.1 1457.8 1377.2 1459.8 1379.0 1460.6C1380.4 1461.3 1382.1 1461.9 1383.6 1461.8C1385.3 1461.6 1387.0 1460.5 1388.3 1459.5C1390.4 1457.8 1391.6 1454.9 1392.9 1452.5C1394.8 1449.2 1396.0 1445.4 1397.6 1442.0C1399.1 1438.9 1400.1 1435.4 1402.3 1432.7C1403.6 1431.0 1405.0 1429.0 1406.9 1428.0C1408.3 1427.3 1410.1 1427.4 1411.6 1426.9C1413.2 1426.3 1414.9 1425.6 1416.2 1424.5C1418.6 1422.7 1419.5 1419.2 1420.9 1416.4C1423.0 1412.0 1424.1 1407.1 1425.5 1402.4C1427.2 1397.0 1428.3 1391.5 1430.2 1386.1C1431.6 1382.2 1432.6 1378.0 1434.8 1374.5C1436.2 1372.4 1437.7 1370.4 1439.5 1368.7C1440.9 1367.4 1442.7 1366.5 1444.2 1365.2C1445.9 1363.5 1447.5 1361.4 1448.8 1359.4C1450.9 1356.2 1452.2 1352.5 1453.5 1348.9C1455.1 1344.4 1455.9 1339.6 1457.0 1334.9C1458.2 1329.5 1459.3 1324.1 1460.4 1318.6C1461.7 1312.4 1462.9 1306.3 1463.9 1300.0C1464.8 1294.4 1465.5 1288.7 1466.3 1283.0C1467.4 1274.5 1468.5 1266.0 1469.8 1257.4C1470.9 1249.7 1471.9 1241.9 1473.2 1234.2C1474.3 1227.9 1475.5 1221.7 1476.7 1215.5C1477.8 1210.1 1479.0 1204.6 1480.2 1199.2C1481.3 1194.6 1482.4 1189.9 1483.7 1185.3C1484.8 1181.4 1485.7 1177.4 1487.2 1173.6C1488.2 1171.2 1489.0 1168.5 1490.7 1166.6C1492.0 1165.2 1494.0 1163.0 1495.4 1163.2C1496.7 1163.4 1497.9 1166.2 1498.9 1167.8C1501.1 1171.6 1501.4 1176.3 1502.3 1180.6C1503.9 1187.5 1504.8 1194.6 1505.8 1201.6C1507.1 1210.1 1508.2 1218.6 1509.3 1227.2C1510.6 1236.5 1511.6 1245.8 1512.8 1255.1C1514.0 1264.4 1515.3 1273.7 1516.5 1283.0C1517.8 1293.1 1519.0 1303.2 1520.2 1313.3C1521.4 1323.4 1522.7 1333.5 1523.9 1343.6C1525.1 1353.6 1526.3 1363.7 1527.6 1373.8C1528.8 1383.1 1530.0 1392.4 1531.2 1401.8C1532.8 1414.4 1534.7 1427.0 1536.1 1439.7C1537.1 1449.0 1537.8 1458.3 1538.9 1467.6C1539.7 1473.8 1540.3 1480.1 1541.5 1486.2C1542.2 1490.1 1542.8 1494.1 1544.0 1497.9C1545.1 1501.4 1546.6 1504.7 1548.2 1508.1C1549.0 1509.7 1549.4 1511.5 1550.6 1512.8C1551.2 1513.6 1552.0 1514.4 1553.0 1514.8C1553.6 1515.0 1554.3 1515.2 1554.9 1515.2C1555.8 1515.1 1556.6 1514.5 1557.3 1514.0C1558.3 1513.3 1558.9 1512.2 1559.7 1511.2C1560.4 1510.3 1560.8 1509.2 1561.7 1508.5C1562.3 1507.8 1563.2 1507.2 1564.0 1506.9C1564.8 1506.6 1565.6 1506.4 1566.4 1506.5C1567.2 1506.5 1568.1 1506.9 1568.8 1507.3C1569.7 1507.8 1570.4 1508.8 1571.2 1509.6C1572.0 1510.5 1572.7 1511.5 1573.5 1512.4C1574.3 1513.2 1575.1 1514.0 1575.9 1514.8C1576.7 1515.5 1577.4 1516.3 1578.3 1516.8C1579.0 1517.2 1579.8 1517.4 1580.7 1517.6C1581.4 1517.7 1582.2 1517.8 1583.0 1517.7C1583.8 1517.7 1584.7 1517.5 1585.4 1517.2C1586.3 1516.7 1587.1 1515.9 1587.8 1515.2C1588.7 1514.2 1589.4 1513.1 1590.1 1512.0C1591.0 1510.9 1591.6 1509.5 1592.5 1508.5C1593.2 1507.6 1593.9 1506.6 1594.9 1506.1C1595.6 1505.7 1596.5 1505.5 1597.3 1505.5C1598.1 1505.6 1598.9 1505.9 1599.6 1506.3C1600.6 1506.9 1601.3 1508.0 1602.0 1508.9C1603.1 1510.3 1603.7 1512.1 1604.8 1513.6C1605.7 1514.9 1606.9 1516.0 1608.0 1517.2C1631.9 1523.5 1655.9 1529.8 1679.8 1536.2"/>
<path stroke="#55AD20" d="M1824.4 1572.1C1836.6 1575.5 1848.8 1578.9 1861.0 1582.3C1862.8 1584.1 1864.7 1585.8 1866.3 1587.7C1868.1 1589.8 1869.1 1592.6 1871.0 1594.7C1872.4 1596.2 1873.8 1598.1 1875.7 1598.6C1876.7 1599.0 1878.1 1599.2 1879.1 1598.9C1880.7 1598.4 1881.7 1596.2 1882.6 1594.7C1884.3 1592.0 1884.8 1588.5 1885.7 1585.4C1887.1 1580.1 1887.6 1574.5 1888.5 1569.1C1889.7 1560.6 1890.5 1552.0 1891.5 1543.5C1892.7 1532.6 1893.8 1521.7 1895.0 1510.9C1896.1 1500.0 1897.1 1489.1 1898.2 1478.3C1899.3 1467.4 1900.4 1456.6 1901.5 1445.7C1902.6 1434.8 1903.7 1424.0 1904.7 1413.1C1905.9 1401.5 1907.2 1389.8 1908.2 1378.2C1909.3 1366.6 1910.2 1354.9 1911.3 1343.3C1912.0 1335.5 1912.7 1327.7 1913.4 1319.9C1914.7 1303.0 1915.4 1286.1 1916.4 1269.2C1917.5 1249.8 1918.7 1230.4 1919.9 1211.0C1921.0 1191.6 1922.0 1172.2 1923.4 1152.8C1924.4 1137.2 1925.7 1121.7 1926.9 1106.2C1928.0 1090.7 1929.0 1075.2 1930.4 1059.7C1931.4 1047.2 1932.3 1034.8 1933.8 1022.4C1934.8 1014.6 1936.1 1006.9 1937.3 999.1C1938.4 992.2 1939.7 985.2 1940.8 978.2C1942.1 970.4 1943.1 962.7 1944.3 954.9C1945.4 947.9 1946.7 941.0 1947.8 934.0C1948.6 929.3 1949.4 924.6 1950.1 919.9C1951.7 909.3 1952.2 898.5 1953.6 887.8C1954.7 880.0 1955.5 872.2 1957.1 864.5C1958.1 859.8 1959.3 855.2 1960.6 850.5C1961.7 846.6 1962.5 842.6 1964.1 838.9C1965.1 836.5 1966.5 834.3 1967.6 831.9C1968.9 828.9 1970.0 825.7 1971.1 822.6C1972.4 818.8 1973.6 814.9 1974.6 811.0C1975.9 805.6 1976.6 800.1 1977.4 794.7C1978.5 787.0 1979.0 779.2 1979.7 771.4C1980.6 762.1 1981.3 752.8 1982.0 743.5C1982.8 734.2 1983.6 724.8 1984.4 715.5C1985.1 706.2 1985.9 696.9 1986.7 687.6C1987.5 678.3 1988.2 669.0 1989.0 659.7C1989.7 651.9 1990.4 644.1 1991.3 636.4C1992.0 630.9 1992.4 625.4 1993.7 620.1C1994.5 616.6 1995.4 613.0 1996.7 609.6C1997.4 607.8 1997.7 605.6 1999.0 604.3C1999.7 603.6 2000.6 602.7 2001.4 602.6C2002.5 602.5 2003.6 604.9 2004.4 606.1C2006.0 608.8 2006.0 612.3 2006.7 615.4C2007.9 620.8 2008.6 626.3 2009.5 631.7C2010.5 637.9 2011.4 644.1 2012.3 650.4C2013.1 656.6 2013.9 662.8 2014.6 669.0C2015.6 677.5 2016.2 686.0 2016.9 694.6C2017.7 703.1 2018.5 711.7 2019.3 720.2C2020.0 727.9 2020.9 735.7 2021.6 743.5C2022.5 752.8 2023.2 762.1 2023.9 771.4C2024.8 782.3 2025.5 793.1 2026.3 804.0C2027.1 815.6 2027.8 827.3 2028.6 838.9C2029.4 850.5 2030.2 862.2 2030.9 873.8C2031.9 889.2 2032.4 904.6 2033.5 920.0C2034.3 931.6 2035.4 943.3 2036.3 954.9C2037.5 970.4 2038.5 986.0 2039.8 1001.5C2040.8 1014.7 2042.1 1027.8 2043.2 1041.0C2044.4 1055.0 2045.6 1069.0 2046.7 1082.9C2047.9 1096.9 2049.0 1110.9 2050.2 1124.8C2051.4 1138.0 2052.6 1151.2 2053.7 1164.4C2054.9 1177.6 2056.1 1190.8 2057.2 1204.0C2058.4 1217.9 2059.5 1231.9 2060.7 1245.9C2061.8 1259.1 2063.0 1272.3 2064.2 1285.5C2065.2 1297.0 2066.1 1308.5 2067.2 1320.0C2068.4 1331.7 2069.8 1343.3 2071.2 1354.9C2072.7 1368.1 2074.2 1381.3 2075.8 1394.5C2077.7 1410.0 2079.6 1425.5 2081.7 1441.0C2083.9 1458.1 2085.8 1475.3 2088.6 1492.3C2090.7 1504.7 2092.8 1517.2 2095.6 1529.5C2097.4 1537.3 2099.1 1545.1 2101.4 1552.8C2103.2 1558.3 2104.1 1564.4 2107.3 1569.1C2108.9 1571.4 2110.8 1575.7 2113.1 1575.6C2114.5 1575.5 2116.4 1573.8 2117.7 1572.6C2120.6 1570.0 2121.7 1565.6 2123.6 1562.1C2125.7 1557.9 2127.4 1553.5 2129.4 1549.3C2131.2 1545.4 2132.9 1541.3 2135.2 1537.6C2136.9 1534.8 2138.7 1531.9 2141.0 1529.5C2142.7 1527.7 2144.7 1526.0 2146.8 1524.8C2148.6 1523.9 2150.7 1523.0 2152.7 1523.0C2154.6 1522.9 2156.6 1523.8 2158.5 1524.4C2160.5 1525.0 2162.3 1526.5 2164.3 1526.7C2166.2 1526.9 2168.4 1526.7 2170.1 1526.0C2172.3 1525.2 2174.1 1523.0 2175.9 1521.4C2178.5 1518.9 2180.7 1516.0 2182.9 1513.2C2185.3 1510.2 2187.7 1507.1 2189.9 1503.9C2192.3 1500.5 2194.5 1496.8 2196.9 1493.4C2199.1 1490.3 2201.6 1487.3 2203.9 1484.1C2206.3 1480.7 2208.6 1477.2 2210.8 1473.6C2213.3 1469.8 2215.6 1465.9 2217.8 1462.0C2220.3 1457.4 2222.6 1452.7 2224.8 1448.0C2227.3 1442.7 2229.6 1437.2 2231.8 1431.7C2234.3 1425.6 2236.6 1419.4 2238.8 1413.1C2241.4 1405.4 2243.6 1397.6 2245.8 1389.8C2247.9 1382.1 2249.6 1374.3 2251.6 1366.6C2253.5 1358.8 2255.5 1351.0 2257.4 1343.3C2259.3 1335.5 2261.5 1327.7 2263.2 1319.9C2264.9 1312.3 2266.3 1304.7 2267.9 1297.1C2269.4 1289.3 2270.9 1281.6 2272.5 1273.8C2274.0 1266.8 2275.5 1259.8 2277.2 1252.9C2278.3 1248.2 2279.3 1243.5 2280.7 1238.9C2281.4 1236.6 2281.7 1233.9 2283.0 1231.9C2283.7 1230.9 2284.6 1230.1 2285.3 1229.1"/>
<path stroke="#0CBEF0" d="M318.2 1402.3C319.5 1404.6 320.6 1407.1 322.1 1409.3C323.5 1411.3 324.8 1413.8 326.8 1415.1C328.4 1416.2 330.6 1417.0 332.6 1417.0C334.1 1416.9 335.9 1416.3 337.2 1415.6C339.7 1414.3 341.2 1411.4 343.1 1409.3C345.1 1407.0 347.1 1404.7 348.9 1402.3C351.0 1399.4 352.7 1396.0 354.7 1393.0C356.6 1390.2 357.9 1386.8 360.5 1384.8C362.2 1383.6 364.5 1381.9 366.3 1382.0C367.9 1382.2 369.7 1383.7 371.0 1384.8C373.5 1387.1 374.2 1391.0 375.7 1394.2C378.0 1399.4 379.7 1405.0 381.5 1410.4C383.6 1417.0 385.4 1423.6 387.3 1430.2C389.3 1437.6 391.2 1445.0 393.1 1452.3C394.7 1458.5 396.1 1464.8 397.8 1471.0C399.2 1476.4 400.7 1481.9 402.4 1487.3C403.9 1491.9 405.3 1496.7 407.1 1501.2C408.5 1504.8 409.5 1508.7 411.7 1511.7C413.3 1513.9 415.3 1516.1 417.6 1517.5C419.6 1518.8 422.2 1519.1 424.5 1519.9C426.8 1520.5 429.3 1520.9 431.5 1521.7C434.3 1522.7 436.9 1524.6 439.7 1525.7C442.7 1526.9 445.8 1527.9 449.0 1528.5C452.4 1529.1 456.0 1529.6 459.5 1529.2C462.2 1528.8 465.1 1528.1 467.6 1526.8C470.2 1525.5 472.4 1523.1 474.6 1521.0C476.7 1518.9 478.3 1516.2 480.4 1514.0C482.2 1512.1 484.0 1510.0 486.2 1508.7C488.3 1507.4 490.8 1506.6 493.2 1505.9C496.2 1505.0 499.5 1505.0 502.5 1504.3C505.7 1503.5 508.9 1502.7 511.8 1501.2C514.8 1499.7 517.6 1497.7 520.0 1495.4C522.7 1492.8 525.0 1489.4 527.0 1486.1C529.4 1482.1 531.1 1477.7 532.8 1473.3C534.8 1468.0 536.0 1462.5 537.4 1457.0C539.2 1450.1 540.6 1443.1 542.1 1436.1C543.7 1428.3 545.2 1420.5 546.7 1412.8C548.6 1403.5 550.5 1394.1 552.6 1384.8C554.4 1376.3 556.2 1367.7 558.4 1359.2C560.2 1352.2 562.1 1345.2 564.2 1338.3C566.0 1332.1 567.6 1325.7 570.0 1319.7C571.7 1315.3 573.3 1310.7 575.8 1306.9C577.5 1304.4 579.2 1301.4 581.7 1299.9C583.3 1298.9 585.5 1298.1 587.5 1298.0C589.4 1297.9 591.4 1298.5 593.3 1299.2C595.3 1299.9 597.4 1300.9 599.1 1302.2C601.5 1304.0 603.2 1306.7 604.9 1309.2C607.4 1312.7 608.9 1316.9 610.8 1320.8C612.9 1325.4 614.7 1330.1 616.6 1334.8C618.7 1340.2 620.5 1345.6 622.4 1351.1C624.4 1356.9 626.3 1362.7 628.2 1368.5C630.2 1374.7 632.0 1381.0 634.0 1387.2C635.9 1392.6 637.8 1398.1 639.9 1403.5C641.7 1408.5 643.6 1413.6 645.7 1418.6C647.5 1422.9 649.4 1427.2 651.5 1431.4C653.7 1435.7 656.1 1440.0 658.5 1444.2C660.7 1448.1 662.9 1452.1 665.5 1455.8C667.6 1459.0 670.1 1462.1 672.4 1465.1C674.7 1468.1 676.8 1471.2 679.4 1473.8C681.5 1475.8 683.8 1477.8 686.4 1479.1C688.6 1480.2 691.1 1481.6 693.4 1481.4C695.3 1481.3 697.5 1480.2 699.2 1479.1C701.7 1477.5 703.2 1474.5 705.0 1472.1C707.6 1468.8 709.5 1465.0 712.0 1461.7C714.2 1458.8 716.3 1455.8 719.0 1453.5C721.1 1451.7 723.4 1449.7 726.0 1448.9C727.8 1448.3 730.0 1447.9 731.8 1448.2C733.9 1448.5 735.9 1449.9 737.6 1451.2C740.9 1453.7 742.5 1458.0 744.6 1461.7C747.2 1466.1 749.2 1471.0 751.6 1475.6C753.8 1479.9 755.9 1484.4 758.6 1488.4C760.0 1490.6 761.1 1493.3 763.2 1494.7C764.6 1495.6 766.5 1496.7 767.9 1496.6C769.7 1496.4 771.2 1493.6 772.5 1491.9C775.6 1488.0 776.6 1482.7 778.4 1478.0C780.6 1471.9 781.8 1465.4 784.2 1459.3C786.2 1454.2 787.8 1448.5 791.2 1444.2C793.6 1441.1 796.5 1435.9 800.0 1436.1C801.5 1436.1 803.3 1436.9 804.7 1437.8C806.5 1438.9 808.0 1440.7 809.3 1442.4C811.4 1445.1 812.5 1448.6 814.0 1451.7C815.6 1455.2 816.6 1459.0 818.6 1462.2C820.0 1464.3 821.2 1466.9 823.3 1468.0C824.6 1468.8 826.6 1469.5 827.9 1469.2C829.8 1468.9 831.1 1466.2 832.6 1464.5C834.2 1462.7 835.3 1460.1 837.2 1458.7C838.9 1457.6 841.0 1456.9 843.1 1456.4C844.9 1456.0 847.0 1456.4 848.9 1455.9C850.9 1455.5 852.9 1454.6 854.7 1453.6C856.8 1452.5 858.6 1450.9 860.5 1449.4C862.5 1447.9 864.2 1445.9 866.3 1444.8C868.1 1443.8 870.2 1442.9 872.2 1442.9C874.1 1442.9 876.3 1443.8 878.0 1444.8C880.3 1446.1 882.1 1448.5 883.8 1450.6C886.3 1453.7 887.9 1457.5 889.6 1461.1C891.8 1465.6 893.6 1470.3 895.4 1475.0C897.4 1480.0 899.3 1485.1 901.3 1490.1C903.2 1495.2 905.1 1500.3 907.1 1505.3C909.0 1510.0 910.9 1514.6 912.9 1519.2C914.8 1523.5 916.5 1527.9 918.7 1532.0C920.5 1535.3 922.4 1538.4 924.5 1541.4C926.3 1543.8 927.9 1546.7 930.4 1548.3C932.4 1549.7 934.9 1550.8 937.3 1551.1C939.6 1551.5 942.0 1551.0 944.3 1550.7C946.7 1550.3 949.1 1549.9 951.3 1549.0C953.8 1548.1 955.9 1546.1 958.3 1544.9C960.2 1543.8 962.1 1542.1 964.1 1542.1C965.6 1542.1 967.4 1542.9 968.8 1543.7C971.1 1545.0 972.7 1547.5 974.6 1549.5C976.6 1551.7 978.2 1554.5 980.4 1556.5C982.2 1558.1 984.0 1560.3 986.2 1560.7C987.7 1560.9 989.5 1560.6 990.9 1560.0C993.0 1559.0 994.1 1556.2 995.5 1554.2C997.7 1551.2 999.5 1548.0 1001.4 1544.9C1003.5 1541.1 1005.4 1537.1 1007.2 1533.2C1009.3 1528.6 1011.0 1523.9 1013.0 1519.2C1014.9 1514.6 1016.7 1509.9 1018.8 1505.3C1020.6 1501.3 1022.7 1497.5 1024.6 1493.6C1026.6 1489.8 1028.8 1486.0 1030.4 1482.0C1033.0 1476.0 1034.4 1469.6 1036.3 1463.4C1038.3 1456.4 1040.0 1449.4 1042.1 1442.4C1043.9 1436.6 1045.1 1430.4 1047.9 1425.0C1049.6 1421.7 1050.9 1417.8 1053.7 1415.7C1055.1 1414.7 1056.8 1413.5 1058.4 1413.3C1059.9 1413.2 1061.7 1413.8 1063.0 1414.5C1065.6 1415.8 1067.1 1419.0 1068.9 1421.5C1071.0 1424.4 1072.7 1427.7 1074.7 1430.8C1076.6 1433.9 1078.5 1437.1 1080.5 1440.1C1082.4 1442.9 1084.0 1445.9 1086.3 1448.2C1088.0 1450.0 1089.9 1451.9 1092.1 1452.9C1093.6 1453.5 1095.4 1454.3 1096.8 1454.1C1098.7 1453.7 1100.1 1451.1 1101.4 1449.4C1103.5 1446.7 1104.5 1443.2 1106.1 1440.1C1108.0 1436.2 1109.9 1432.3 1111.9 1428.5C1113.8 1424.9 1115.8 1421.5 1117.7 1418.0C1119.7 1414.5 1121.7 1411.0 1123.6 1407.5C1125.6 1403.7 1127.5 1399.8 1129.4 1395.9C1131.4 1391.6 1133.0 1387.2 1135.2 1383.1C1136.6 1380.3 1137.7 1377.1 1139.9 1374.9C1141.2 1373.6 1142.8 1371.7 1144.5 1371.4C1145.9 1371.2 1147.8 1371.9 1149.2 1372.6C1151.2 1373.7 1152.4 1376.4 1153.8 1378.4C1156.1 1381.7 1157.8 1385.4 1159.6 1388.9C1161.7 1392.7 1163.8 1396.5 1165.5 1400.5C1167.3 1405.0 1168.7 1409.8 1170.1 1414.5C1171.9 1420.6 1173.1 1426.9 1174.8 1433.1C1176.2 1438.6 1177.6 1444.1 1179.4 1449.4C1180.8 1453.4 1182.1 1457.4 1184.1 1461.1C1185.4 1463.5 1186.9 1466.0 1188.7 1468.0C1190.1 1469.6 1191.7 1471.1 1193.4 1472.2C1195.2 1473.4 1197.4 1473.9 1199.2 1475.0C1201.3 1476.3 1202.9 1478.4 1205.0 1479.7C1206.8 1480.8 1208.9 1482.5 1210.8 1482.5C1212.4 1482.5 1214.2 1481.7 1215.5 1480.8C1218.0 1479.2 1218.8 1475.5 1220.2 1472.7C1222.7 1467.5 1224.2 1461.9 1226.0 1456.4C1228.5 1448.7 1230.6 1440.9 1232.5 1433.1C1234.5 1424.7 1236.4 1416.1 1237.6 1407.5C1238.3 1402.5 1238.7 1397.5 1239.3 1392.4C1241.1 1376.9 1243.6 1361.4 1245.4 1345.9C1246.9 1332.7 1248.0 1319.5 1249.3 1306.3C1250.4 1294.7 1251.3 1283.0 1252.6 1271.4C1253.5 1262.8 1254.2 1254.2 1255.8 1245.8C1256.9 1240.3 1257.3 1234.5 1259.6 1229.5C1260.6 1227.2 1261.3 1224.4 1263.3 1223.0C1264.0 1222.5 1264.9 1221.9 1265.6 1221.8C1267.4 1221.6 1268.5 1225.3 1269.6 1227.2C1271.9 1231.3 1272.0 1236.5 1273.1 1241.1C1274.4 1247.3 1275.5 1253.5 1276.6 1259.8C1277.9 1267.5 1279.0 1275.3 1280.0 1283.0C1281.4 1293.1 1282.5 1303.2 1283.5 1313.3C1284.8 1325.7 1285.9 1338.1 1287.0 1350.5C1288.1 1362.9 1289.0 1375.4 1290.1 1387.8C1291.1 1400.4 1292.0 1413.1 1293.3 1425.7C1294.4 1436.6 1295.6 1447.5 1297.0 1458.3C1298.2 1466.8 1299.2 1475.4 1301.0 1483.9C1302.3 1490.1 1303.6 1496.5 1305.7 1502.5C1307.0 1506.5 1308.1 1510.7 1310.3 1514.2C1311.6 1516.2 1313.0 1518.6 1315.0 1520.0C1316.3 1520.9 1318.0 1521.8 1319.6 1521.8C1320.8 1521.9 1322.1 1521.6 1323.1 1521.1C1324.7 1520.3 1325.6 1518.1 1326.6 1516.5C1328.3 1513.7 1329.0 1510.3 1330.1 1507.2C1331.4 1503.3 1332.4 1499.4 1333.6 1495.5C1334.7 1492.0 1335.5 1488.3 1337.1 1485.1C1338.1 1483.0 1338.9 1480.6 1340.6 1479.2C1341.6 1478.4 1342.8 1477.5 1344.1 1477.4C1345.2 1477.2 1346.5 1477.6 1347.6 1478.1C1349.5 1478.9 1350.7 1481.2 1352.2 1482.7C1354.1 1484.7 1355.9 1486.8 1358.0 1488.5C1360.2 1490.3 1362.6 1491.8 1365.0 1493.2C1367.3 1494.5 1369.6 1495.6 1372.0 1496.7C1373.9 1497.5 1375.8 1498.5 1377.8 1499.0C1379.3 1499.4 1381.0 1499.9 1382.5 1499.7C1384.1 1499.5 1385.8 1498.8 1387.1 1497.9C1389.1 1496.5 1390.4 1494.1 1391.8 1492.0C1393.6 1489.5 1394.8 1486.5 1396.4 1483.9C1398.2 1481.1 1400.1 1478.3 1402.3 1475.7C1404.4 1473.2 1406.9 1471.1 1409.2 1468.8C1411.2 1466.8 1413.2 1465.0 1415.1 1462.9C1416.7 1461.1 1418.4 1459.2 1419.7 1457.1C1421.8 1453.9 1422.9 1450.2 1424.4 1446.6C1426.0 1442.8 1427.4 1438.9 1429.0 1435.0C1430.5 1431.5 1431.9 1427.9 1433.7 1424.5C1435.4 1421.3 1437.3 1418.2 1439.5 1415.2C1441.3 1412.8 1443.6 1410.7 1445.3 1408.2C1447.1 1405.7 1448.6 1402.9 1450.0 1400.1C1452.1 1395.7 1453.3 1390.8 1454.6 1386.1C1456.8 1378.5 1457.9 1370.6 1459.3 1362.8C1460.6 1355.9 1461.7 1348.9 1462.8 1341.9C1464.0 1334.2 1465.1 1326.4 1466.3 1318.6C1467.4 1310.6 1468.7 1302.7 1469.8 1294.7C1471.0 1285.4 1472.0 1276.0 1473.2 1266.7C1474.4 1258.2 1475.4 1249.7 1476.7 1241.1C1477.8 1234.1 1478.9 1227.1 1480.2 1220.2C1481.3 1214.7 1482.4 1209.3 1483.7 1203.9C1484.8 1199.6 1485.8 1195.3 1487.2 1191.1C1488.3 1187.9 1489.2 1184.7 1490.7 1181.8C1491.9 1179.6 1493.2 1175.0 1494.9 1175.5C1495.8 1175.7 1496.9 1177.3 1497.7 1178.3C1500.1 1181.4 1500.2 1186.0 1501.2 1189.9C1502.9 1196.8 1503.6 1203.9 1504.7 1210.9C1506.0 1219.4 1507.1 1227.9 1508.2 1236.5C1509.5 1246.6 1510.6 1256.7 1511.8 1266.7C1513.0 1277.6 1514.2 1288.5 1515.5 1299.3C1516.7 1310.2 1517.9 1321.1 1519.2 1331.9C1520.4 1342.8 1521.5 1353.7 1522.9 1364.5C1524.0 1373.8 1525.5 1383.1 1526.6 1392.4C1527.4 1400.4 1527.7 1408.4 1528.6 1416.4C1529.8 1425.7 1531.6 1435.0 1533.3 1444.3C1534.7 1452.1 1536.0 1459.9 1538.0 1467.6C1539.3 1473.1 1540.7 1478.6 1542.6 1483.9C1543.9 1487.4 1545.1 1491.0 1546.8 1494.4C1547.3 1495.2 1547.6 1496.2 1548.2 1497.0C1549.0 1498.1 1550.2 1499.1 1551.4 1499.8C1552.3 1500.3 1553.5 1500.6 1554.5 1500.8C1555.6 1500.9 1556.7 1500.9 1557.7 1500.8C1558.8 1500.7 1559.8 1500.2 1560.9 1500.0C1561.9 1499.8 1563.0 1499.4 1564.0 1499.4C1565.1 1499.3 1566.2 1499.4 1567.2 1499.8C1568.0 1500.0 1568.9 1500.4 1569.6 1500.9C1570.5 1501.6 1571.2 1502.5 1571.9 1503.3C1573.1 1504.6 1574.0 1506.0 1575.1 1507.3C1576.1 1508.5 1577.1 1509.8 1578.3 1510.8C1579.3 1511.7 1580.3 1512.6 1581.4 1513.2C1582.4 1513.7 1583.5 1514.0 1584.6 1514.2C1585.6 1514.5 1586.7 1514.6 1587.8 1514.8C1589.1 1515.0 1590.4 1515.1 1591.7 1515.3C1592.8 1515.5 1593.9 1515.6 1594.9 1516.0C1595.7 1516.3 1596.6 1516.7 1597.3 1517.2C1598.2 1517.8 1598.9 1518.7 1599.6 1519.5C1600.6 1520.6 1601.2 1521.9 1602.0 1523.1C1602.9 1524.4 1603.7 1525.9 1604.8 1527.1C1605.7 1528.1 1606.9 1528.9 1608.0 1529.8C1631.9 1531.1 1655.9 1532.5 1679.8 1533.8"/>
<path stroke="#0CBEF0" d="M1824.4 1543.0C1837.2 1543.8 1850.0 1544.5 1862.8 1545.3C1864.8 1545.9 1866.7 1546.4 1868.7 1547.0C1870.2 1547.4 1871.7 1548.0 1873.3 1548.1C1874.5 1548.2 1875.8 1548.5 1876.8 1548.1C1878.3 1547.6 1879.3 1545.9 1880.3 1544.6C1881.8 1542.6 1882.5 1540.0 1883.3 1537.6C1884.8 1533.5 1885.2 1529.1 1886.1 1524.8C1887.5 1518.6 1889.0 1512.5 1890.1 1506.2C1891.6 1497.7 1892.5 1489.2 1893.6 1480.6C1894.9 1470.5 1896.1 1460.4 1897.3 1450.4C1898.6 1439.5 1899.7 1428.6 1900.8 1417.8C1902.0 1406.1 1903.0 1394.5 1904.1 1382.8C1905.1 1371.2 1905.9 1359.5 1907.3 1347.9C1908.4 1338.6 1910.2 1329.3 1911.3 1319.9C1913.7 1299.2 1913.9 1278.3 1915.2 1257.5C1916.4 1238.1 1917.5 1218.7 1918.7 1199.3C1919.8 1182.3 1920.9 1165.2 1922.2 1148.1C1923.3 1134.1 1924.4 1120.2 1925.7 1106.2C1926.8 1094.6 1927.9 1082.9 1929.2 1071.3C1930.3 1062.0 1931.3 1052.7 1932.7 1043.4C1933.7 1036.4 1934.7 1029.3 1936.2 1022.4C1937.2 1017.7 1938.5 1013.1 1939.7 1008.5C1941.2 1002.2 1942.9 996.1 1944.3 989.8C1946.1 982.1 1947.3 974.3 1949.0 966.6C1950.5 959.6 1951.8 952.5 1953.6 945.6C1955.0 940.1 1955.8 934.3 1958.3 929.3C1959.6 926.7 1961.1 924.1 1962.9 921.9C1964.0 920.5 1965.1 919.1 1966.4 918.0C1967.5 917.2 1968.8 916.6 1969.9 915.7C1971.2 914.7 1972.4 913.5 1973.4 912.2C1974.8 910.5 1976.0 908.4 1976.9 906.4C1978.3 903.5 1978.9 900.2 1979.7 897.1C1980.8 892.5 1981.3 887.8 1982.0 883.1C1982.9 876.9 1983.6 870.7 1984.4 864.5C1985.2 857.5 1985.9 850.5 1986.7 843.6C1987.5 836.6 1988.1 829.6 1989.0 822.6C1989.7 817.2 1990.4 811.7 1991.3 806.3C1992.0 802.4 1992.8 798.5 1993.7 794.7C1994.4 791.6 1995.1 788.4 1996.0 785.4C1996.7 783.0 1997.2 780.5 1998.3 778.4C1999.0 777.2 1999.8 774.9 2000.7 774.9C2001.4 774.9 2002.3 776.9 2003.0 777.9C2004.4 780.2 2005.1 782.8 2006.0 785.4C2007.3 789.1 2008.2 793.1 2009.0 797.0C2010.2 802.4 2010.9 807.9 2011.8 813.3C2012.8 819.5 2013.7 825.7 2014.6 831.9C2015.6 838.9 2016.5 845.9 2017.4 852.9C2018.4 860.6 2019.3 868.4 2020.2 876.1C2021.2 884.7 2022.2 893.2 2023.0 901.8C2023.6 907.8 2024.1 913.9 2024.6 920.0C2025.9 935.5 2027.0 951.0 2028.1 966.6C2029.3 982.1 2030.4 997.6 2031.6 1013.1C2032.8 1028.6 2033.9 1044.2 2035.1 1059.7C2036.2 1073.6 2037.4 1087.6 2038.6 1101.6C2039.7 1114.0 2040.9 1126.4 2042.1 1138.8C2043.2 1150.5 2044.4 1162.1 2045.6 1173.7C2046.7 1184.6 2047.9 1195.5 2049.1 1206.3C2050.5 1219.5 2052.2 1232.7 2053.7 1245.9C2055.3 1259.1 2056.8 1272.3 2058.4 1285.5C2059.8 1297.0 2061.4 1308.5 2062.6 1320.0C2063.7 1331.6 2064.3 1343.3 2065.4 1354.9C2066.6 1368.1 2068.1 1381.3 2069.6 1394.5C2071.1 1408.5 2072.5 1422.5 2074.7 1436.4C2076.3 1447.3 2078.1 1458.2 2080.5 1469.0C2082.2 1476.8 2084.1 1484.6 2086.3 1492.3C2088.4 1499.3 2090.5 1506.4 2093.3 1513.2C2095.4 1518.3 2097.4 1523.6 2100.3 1528.3C2102.3 1531.6 2104.3 1535.2 2107.3 1537.6C2109.0 1539.0 2111.0 1541.0 2113.1 1541.1C2114.6 1541.2 2116.3 1540.6 2117.7 1540.0C2120.0 1539.0 2121.7 1537.0 2123.6 1535.3C2126.0 1533.1 2128.1 1530.5 2130.5 1528.3C2132.8 1526.3 2134.9 1524.0 2137.5 1522.5C2139.7 1521.3 2142.1 1520.2 2144.5 1519.7C2146.8 1519.3 2149.2 1519.4 2151.5 1519.7C2153.9 1520.1 2156.1 1521.4 2158.5 1522.0C2160.8 1522.7 2163.1 1523.4 2165.5 1523.7C2167.4 1523.9 2169.5 1524.1 2171.3 1523.7C2173.4 1523.1 2175.2 1521.5 2177.1 1520.2C2179.6 1518.5 2181.9 1516.5 2184.1 1514.4C2186.6 1511.9 2188.9 1509.1 2191.1 1506.2C2193.7 1502.6 2195.7 1498.5 2198.0 1494.6C2200.4 1490.7 2202.7 1486.8 2205.0 1482.9C2207.4 1479.1 2209.7 1475.2 2212.0 1471.3C2214.3 1467.4 2216.8 1463.6 2219.0 1459.7C2221.5 1455.1 2223.8 1450.4 2226.0 1445.7C2228.5 1440.3 2230.8 1434.9 2233.0 1429.4C2235.4 1423.3 2237.7 1417.0 2239.9 1410.8C2242.4 1403.8 2244.7 1396.8 2246.9 1389.8C2249.4 1382.1 2251.7 1374.3 2253.9 1366.6C2255.9 1359.6 2257.8 1352.6 2259.7 1345.6C2261.7 1338.6 2263.8 1331.7 2265.5 1324.7C2267.4 1317.1 2268.8 1309.4 2270.2 1301.8C2271.9 1292.5 2273.3 1283.1 2274.9 1273.8C2276.4 1264.5 2278.0 1255.2 2279.5 1245.9C2280.7 1238.9 2281.8 1231.9 2283.0 1224.9C2283.8 1220.3 2284.6 1215.6 2285.3 1211.0"/>
<path stroke="#B8082F" d="M318.2 1656.7C318.9 1643.7 319.6 1630.6 320.5 1617.6C321.3 1605.0 322.4 1592.5 323.3 1579.9C324.1 1567.7 324.6 1555.4 325.6 1543.1C326.4 1533.0 327.4 1523.0 328.4 1512.9C329.4 1501.9 330.7 1491.0 331.7 1480.0C332.7 1468.9 333.3 1457.7 334.5 1446.5C335.3 1438.8 336.2 1431.0 337.2 1423.2C338.3 1415.5 339.3 1407.7 340.5 1400.0C341.6 1392.6 342.5 1385.1 344.2 1377.9C345.8 1371.2 346.4 1363.8 350.0 1358.1C351.7 1355.6 353.4 1352.7 355.9 1351.1C357.1 1350.3 358.7 1349.2 360.1 1349.2C361.9 1349.3 363.8 1351.8 365.2 1353.4C367.6 1356.2 368.4 1360.3 369.8 1363.9C372.8 1371.4 374.7 1379.4 376.8 1387.2C379.4 1396.4 381.4 1405.8 383.8 1415.1C386.0 1423.7 387.4 1432.6 390.8 1440.7C392.8 1445.5 394.6 1450.7 397.8 1454.7C399.5 1456.8 401.2 1459.3 403.6 1460.5C404.7 1461.0 406.0 1461.7 407.1 1461.7C408.8 1461.6 410.4 1459.5 411.7 1458.2C414.5 1455.4 415.7 1451.2 417.6 1447.7C419.6 1443.9 420.9 1439.6 423.4 1436.1C424.8 1434.0 425.9 1431.4 428.0 1430.2C429.1 1429.7 430.4 1429.1 431.5 1429.1C433.1 1429.1 434.8 1430.4 436.2 1431.4C439.0 1433.5 440.2 1437.5 442.0 1440.7C444.8 1445.9 446.8 1451.5 449.0 1457.0C451.5 1463.1 453.8 1469.4 456.0 1475.6C458.6 1483.3 460.4 1491.2 462.9 1498.9C464.8 1504.4 466.0 1510.2 468.8 1515.2C470.1 1517.6 471.2 1520.7 473.4 1522.2C475.0 1523.3 477.3 1523.5 479.2 1524.0C481.5 1524.7 484.2 1524.6 486.2 1525.7C489.2 1527.2 491.1 1530.9 493.2 1533.8C495.9 1537.4 497.7 1541.7 500.2 1545.5C502.4 1548.8 504.7 1552.1 507.2 1555.2C509.0 1557.7 510.5 1560.9 513.0 1562.4C514.7 1563.5 516.8 1564.5 518.8 1564.5C520.7 1564.6 522.9 1563.8 524.6 1562.9C526.8 1561.8 528.8 1560.1 530.4 1558.3C532.5 1556.0 533.8 1552.9 535.1 1550.1C537.2 1545.7 538.4 1540.8 539.8 1536.1C541.6 1530.0 543.0 1523.8 544.4 1517.5C546.6 1508.3 548.4 1498.9 550.2 1489.6C552.3 1479.5 554.2 1469.4 556.1 1459.3C558.1 1448.5 559.9 1437.6 561.9 1426.7C563.8 1415.9 565.6 1405.0 567.7 1394.2C569.5 1384.8 571.4 1375.5 573.5 1366.2C575.3 1358.4 577.1 1350.6 579.3 1342.9C581.1 1336.7 582.6 1330.3 585.1 1324.3C586.8 1320.3 588.3 1316.1 591.0 1312.7C592.6 1310.5 594.4 1308.2 596.8 1306.9C598.2 1306.1 599.9 1305.4 601.4 1305.2C603.3 1305.0 605.3 1305.8 607.3 1306.2C609.6 1306.6 611.9 1307.6 614.2 1307.6C616.6 1307.6 619.0 1305.8 621.2 1306.2C622.8 1306.4 624.5 1307.2 625.9 1308.0C628.4 1309.6 630.0 1312.5 631.7 1315.0C634.0 1318.3 635.6 1322.0 637.5 1325.5C639.5 1329.0 641.6 1332.4 643.3 1336.0C645.0 1339.4 646.6 1342.9 648.0 1346.4C649.7 1350.6 651.2 1354.9 652.7 1359.2C654.4 1364.6 655.8 1370.1 657.3 1375.5C659.0 1381.7 660.5 1387.9 662.0 1394.2C664.0 1402.7 665.8 1411.2 667.8 1419.8C669.7 1428.3 671.6 1436.9 673.6 1445.4C675.5 1453.1 677.3 1460.9 679.4 1468.6C680.9 1474.1 682.1 1479.7 684.1 1484.9C685.4 1488.5 686.3 1492.5 688.7 1495.4C689.6 1496.5 690.7 1498.3 691.8 1498.4C693.0 1498.6 694.6 1496.6 695.7 1495.4C698.8 1492.2 699.0 1486.9 700.4 1482.6C703.2 1473.5 704.4 1464.0 706.2 1454.7C708.3 1443.8 710.1 1432.9 712.0 1422.1C714.0 1411.2 715.7 1400.3 717.8 1389.5C719.6 1380.2 721.1 1370.7 723.6 1361.6C725.3 1355.7 726.2 1349.2 729.5 1344.1C730.8 1342.0 732.0 1339.1 734.1 1338.3C735.2 1337.9 736.6 1337.6 737.6 1337.8C739.7 1338.2 740.9 1341.1 742.3 1342.9C745.6 1347.5 746.3 1353.7 748.1 1359.2C750.3 1366.1 751.9 1373.2 753.9 1380.2C755.8 1386.4 757.5 1392.7 759.7 1398.8C761.2 1402.7 761.7 1407.4 764.4 1410.4C765.4 1411.6 766.8 1413.5 767.9 1413.5C769.2 1413.5 770.3 1410.8 771.4 1409.3C774.8 1404.3 775.4 1397.7 777.2 1391.8C779.5 1384.2 780.6 1376.2 783.0 1368.5C784.7 1363.0 785.8 1357.1 788.8 1352.3C790.5 1349.6 792.0 1345.4 794.6 1344.8C796.2 1344.5 798.4 1345.0 800.0 1345.7C801.9 1346.7 803.4 1348.7 804.7 1350.5C807.3 1354.1 808.0 1359.0 809.3 1363.3C811.4 1370.1 812.5 1377.2 814.0 1384.2C815.7 1392.7 817.1 1401.3 818.6 1409.8C820.2 1418.4 821.6 1426.9 823.3 1435.4C824.8 1443.2 825.5 1451.2 827.9 1458.7C829.5 1463.5 831.5 1468.2 833.8 1472.7C835.5 1476.3 837.4 1479.8 839.6 1483.2C841.4 1486.0 843.0 1489.1 845.4 1491.3C846.6 1492.4 848.0 1494.3 849.3 1494.3C850.7 1494.4 852.4 1492.5 853.5 1491.3C856.4 1488.4 856.9 1483.6 858.2 1479.7C860.2 1473.6 861.4 1467.3 862.8 1461.1C864.6 1453.3 866.0 1445.5 867.5 1437.8C869.1 1429.3 870.4 1420.7 872.2 1412.2C873.6 1405.2 874.7 1398.0 876.8 1391.2C878.1 1386.9 879.4 1382.5 881.5 1378.4C882.8 1375.8 883.9 1372.5 886.1 1370.7C887.4 1369.7 889.3 1368.3 890.8 1368.4C892.5 1368.5 894.1 1371.0 895.4 1372.6C897.8 1375.5 898.7 1379.5 900.1 1383.1C902.0 1388.0 903.4 1393.1 904.7 1398.2C906.6 1405.1 908.0 1412.1 909.4 1419.2C911.1 1427.7 912.4 1436.2 914.1 1444.8C915.5 1452.5 917.1 1460.3 918.7 1468.0C920.2 1475.0 921.6 1482.0 923.4 1489.0C925.1 1496.0 927.1 1503.0 929.2 1509.9C931.0 1516.2 932.8 1522.5 935.0 1528.6C936.8 1533.3 938.3 1538.2 940.8 1542.5C942.2 1544.9 943.2 1548.1 945.5 1549.5C946.8 1550.4 948.8 1551.3 950.1 1551.1C952.2 1550.9 953.4 1547.0 954.8 1544.9C956.6 1541.9 957.5 1538.4 959.5 1535.5C960.8 1533.5 961.9 1530.6 964.1 1529.7C965.1 1529.3 966.6 1529.0 967.6 1529.3C969.3 1529.7 970.1 1532.6 971.1 1534.4C972.5 1536.9 973.3 1539.8 974.6 1542.5C976.0 1545.7 977.6 1548.8 979.2 1551.8C980.7 1554.6 982.1 1557.4 983.9 1560.0C985.6 1562.5 987.7 1564.7 989.7 1567.0C991.6 1569.0 993.8 1570.7 995.5 1572.8C997.3 1574.9 998.6 1577.5 1000.2 1579.8C1001.7 1582.0 1002.7 1584.9 1004.8 1586.3C1006.0 1587.0 1007.6 1588.0 1008.8 1587.9C1010.5 1587.8 1011.8 1584.9 1013.0 1583.3C1015.6 1579.6 1016.3 1574.8 1017.6 1570.5C1019.6 1564.4 1020.7 1558.0 1022.3 1551.8C1023.9 1545.6 1025.4 1539.4 1027.0 1533.2C1028.5 1527.0 1030.1 1520.8 1031.6 1514.6C1033.3 1507.6 1034.9 1500.7 1036.3 1493.6C1038.3 1482.9 1039.5 1471.9 1040.9 1461.1C1042.6 1448.7 1044.1 1436.2 1045.6 1423.8C1047.2 1410.6 1048.5 1397.4 1050.2 1384.2C1051.7 1373.4 1052.4 1362.3 1054.9 1351.6C1056.2 1346.2 1056.2 1339.8 1059.5 1335.4C1060.8 1333.6 1062.4 1330.9 1064.2 1330.7C1065.6 1330.5 1067.4 1331.7 1068.9 1332.6C1070.6 1333.6 1072.0 1335.1 1073.5 1336.5C1075.1 1338.0 1076.8 1339.5 1078.2 1341.2C1080.3 1343.9 1081.5 1347.3 1082.8 1350.5C1084.9 1355.3 1086.0 1360.6 1087.5 1365.6C1089.1 1371.0 1089.9 1376.7 1092.1 1381.9C1093.3 1384.7 1094.7 1390.3 1096.3 1390.1C1097.5 1389.9 1099.2 1386.3 1100.3 1384.2C1102.8 1379.4 1102.7 1373.4 1103.8 1367.9C1105.0 1361.8 1106.1 1355.5 1107.3 1349.3C1108.8 1341.6 1110.3 1333.8 1111.9 1326.0C1113.4 1319.0 1114.3 1311.9 1116.6 1305.1C1117.9 1301.1 1119.9 1297.4 1121.2 1293.5C1123.3 1287.4 1124.5 1281.1 1125.9 1274.8C1127.8 1266.4 1128.9 1257.7 1130.5 1249.2C1132.0 1241.5 1133.2 1233.6 1135.2 1225.9C1136.2 1222.0 1136.0 1217.2 1138.7 1214.3C1139.5 1213.4 1140.6 1212.0 1141.5 1212.0C1142.6 1211.9 1143.7 1214.2 1144.5 1215.5C1147.0 1219.1 1147.0 1224.0 1148.0 1228.3C1150.0 1236.7 1151.2 1245.3 1152.7 1253.9C1154.3 1263.2 1155.8 1272.5 1157.3 1281.8C1158.9 1291.9 1160.4 1302.0 1162.0 1312.1C1163.5 1322.2 1165.2 1332.2 1166.6 1342.3C1168.3 1354.0 1169.8 1365.6 1171.3 1377.3C1172.9 1389.7 1174.4 1402.1 1175.9 1414.5C1177.5 1427.7 1179.1 1440.9 1180.6 1454.1C1181.8 1464.2 1182.7 1474.3 1184.1 1484.3C1185.1 1492.1 1185.9 1499.9 1187.6 1507.6C1188.6 1512.3 1188.2 1517.9 1191.1 1521.6C1192.0 1522.8 1193.3 1525.0 1194.6 1525.1C1195.6 1525.1 1196.9 1522.7 1198.0 1522.7C1199.3 1522.8 1200.2 1525.0 1201.5 1525.8C1203.1 1526.7 1205.3 1527.8 1206.9 1527.4C1208.4 1527.0 1209.8 1525.2 1210.8 1523.9C1212.9 1521.4 1213.4 1517.7 1214.3 1514.6C1216.0 1509.3 1216.8 1503.7 1217.8 1498.3C1219.7 1489.0 1221.0 1479.7 1222.5 1470.4C1224.2 1459.5 1225.7 1448.6 1227.1 1437.8C1228.8 1425.4 1230.3 1413.0 1231.8 1400.5C1234.0 1382.3 1236.5 1364.1 1238.1 1345.9C1239.9 1326.5 1240.5 1307.1 1241.6 1287.7C1242.8 1268.3 1244.0 1248.9 1245.1 1229.5C1246.3 1210.1 1247.4 1190.7 1248.6 1171.3C1249.7 1153.5 1250.7 1135.6 1252.1 1117.8C1253.1 1104.6 1254.2 1091.4 1255.6 1078.2C1256.6 1068.9 1257.0 1059.4 1259.1 1050.3C1259.9 1046.7 1259.7 1042.6 1261.9 1039.8C1262.6 1038.9 1263.5 1037.6 1264.2 1037.5C1265.3 1037.3 1266.1 1040.5 1266.8 1042.1C1268.3 1045.4 1268.8 1049.1 1269.6 1052.6C1271.5 1061.0 1272.0 1069.6 1273.1 1078.2C1274.5 1089.8 1275.4 1101.5 1276.6 1113.1C1277.8 1125.5 1279.0 1137.9 1280.0 1150.4C1281.4 1165.9 1282.4 1181.4 1283.5 1196.9C1284.8 1214.0 1285.9 1231.0 1287.0 1248.1C1288.1 1265.2 1289.0 1282.3 1290.1 1299.3C1291.0 1314.8 1291.8 1330.4 1292.8 1345.9C1293.8 1359.9 1295.1 1373.8 1295.9 1387.8C1296.4 1397.3 1296.6 1406.9 1297.0 1416.4C1297.7 1430.4 1298.4 1444.3 1299.4 1458.3C1300.2 1469.2 1300.8 1480.1 1302.2 1490.9C1302.9 1497.1 1303.7 1503.3 1305.0 1509.5C1305.8 1513.8 1306.5 1518.2 1308.0 1522.3C1308.9 1525.1 1310.4 1527.7 1311.5 1530.4C1312.7 1533.5 1313.9 1536.6 1315.0 1539.8C1316.3 1544.0 1317.1 1548.4 1318.5 1552.6C1319.5 1555.7 1320.4 1559.0 1321.9 1561.9C1322.9 1563.7 1323.7 1566.2 1325.4 1567.2C1326.1 1567.6 1327.1 1568.2 1327.8 1568.2C1328.9 1568.1 1329.8 1566.4 1330.6 1565.4C1332.3 1563.1 1332.6 1559.9 1333.6 1557.2C1334.8 1553.7 1335.5 1550.0 1337.1 1546.7C1338.1 1544.7 1338.7 1541.8 1340.6 1540.9C1341.4 1540.5 1342.7 1540.2 1343.6 1540.5C1344.7 1540.7 1345.6 1542.2 1346.4 1543.2C1348.0 1545.3 1348.6 1548.0 1349.9 1550.2C1351.0 1552.2 1351.8 1554.4 1353.4 1556.1C1354.4 1557.1 1355.7 1558.9 1356.9 1558.8C1357.9 1558.8 1359.1 1557.1 1359.9 1556.1C1361.4 1554.1 1361.9 1551.4 1362.7 1549.1C1364.3 1544.5 1364.9 1539.7 1366.2 1535.1C1367.3 1531.2 1368.1 1527.2 1369.7 1523.5C1370.7 1521.1 1371.7 1518.6 1373.2 1516.5C1374.2 1515.0 1375.2 1513.3 1376.6 1512.3C1378.0 1511.4 1380.0 1511.5 1381.3 1510.7C1383.3 1509.4 1384.7 1506.9 1386.0 1504.8C1388.5 1500.7 1389.3 1495.6 1390.6 1490.9C1392.8 1483.3 1393.7 1475.4 1395.3 1467.6C1396.8 1459.8 1397.8 1451.9 1399.9 1444.3C1401.3 1439.6 1402.5 1434.8 1404.6 1430.4C1405.9 1427.5 1407.5 1424.8 1409.2 1422.2C1410.6 1420.2 1412.5 1418.4 1413.9 1416.4C1415.8 1413.5 1417.3 1410.3 1418.5 1407.1C1420.1 1403.3 1421.0 1399.4 1422.0 1395.4C1423.5 1390.1 1424.3 1384.6 1425.5 1379.1C1427.1 1372.2 1428.3 1365.1 1430.2 1358.2C1431.6 1353.1 1432.1 1347.5 1434.8 1343.1C1436.1 1341.0 1437.6 1338.8 1439.5 1337.2C1441.2 1335.8 1443.8 1335.3 1445.3 1333.8C1447.7 1331.3 1447.9 1326.8 1448.8 1323.3C1450.0 1318.7 1450.5 1314.0 1451.1 1309.3C1452.2 1302.1 1452.8 1294.9 1453.5 1287.7C1454.4 1277.6 1455.0 1267.5 1455.8 1257.4C1456.9 1244.2 1458.2 1231.1 1459.3 1217.9C1460.6 1202.3 1461.6 1186.8 1462.8 1171.3C1463.9 1155.8 1465.1 1140.3 1466.3 1124.7C1467.4 1109.2 1468.6 1093.7 1469.8 1078.2C1470.9 1062.7 1472.2 1047.2 1473.2 1031.6C1474.0 1019.3 1474.6 1006.9 1475.3 994.6C1476.0 982.9 1476.8 971.3 1477.7 959.7C1478.4 950.0 1479.1 940.3 1480.0 930.6C1480.7 922.8 1481.5 915.0 1482.3 907.3C1483.1 899.9 1483.8 892.5 1484.6 885.2C1485.4 879.0 1486.0 872.7 1487.0 866.6C1487.7 861.9 1488.1 857.2 1489.3 852.6C1490.0 850.0 1490.3 847.2 1491.6 845.0C1492.3 844.0 1493.2 842.1 1494.0 842.1C1494.6 842.2 1495.4 844.0 1495.9 845.0C1497.3 847.6 1497.0 850.8 1497.4 853.8C1498.1 858.0 1498.6 862.3 1499.2 866.6C1499.8 871.2 1500.4 875.9 1500.9 880.5C1501.6 886.7 1502.2 892.9 1502.7 899.1C1503.3 906.9 1503.9 914.7 1504.4 922.4C1505.0 931.0 1505.6 939.5 1506.2 948.0C1506.8 956.6 1507.4 965.1 1507.9 973.6C1508.3 980.6 1508.7 987.6 1509.1 994.6C1510.1 1014.7 1510.2 1034.8 1511.0 1054.9C1511.5 1070.4 1512.0 1086.0 1512.8 1101.5C1513.6 1117.0 1514.8 1132.5 1515.8 1148.0C1516.9 1163.5 1518.2 1179.1 1519.3 1194.6C1520.5 1210.1 1521.6 1225.6 1522.8 1241.1C1523.8 1252.8 1524.7 1264.4 1525.8 1276.1C1526.8 1287.7 1527.7 1299.4 1529.0 1311.0C1529.9 1318.7 1531.1 1326.5 1532.0 1334.2C1532.9 1342.0 1533.6 1349.8 1534.5 1357.5C1535.5 1366.8 1536.9 1376.1 1537.7 1385.5C1538.5 1395.7 1538.2 1406.1 1539.1 1416.4C1539.9 1425.7 1541.2 1435.0 1542.6 1444.3C1543.5 1450.5 1544.2 1456.8 1545.6 1462.9C1546.8 1467.5 1547.5 1472.3 1549.8 1476.4C1550.4 1477.5 1550.7 1479.0 1551.8 1479.6C1552.2 1479.8 1552.8 1480.0 1553.3 1480.0C1554.1 1479.9 1554.7 1479.2 1555.3 1478.8C1556.1 1478.2 1556.7 1477.5 1557.3 1476.8C1558.2 1475.7 1558.7 1474.2 1559.3 1472.8C1560.0 1471.2 1560.5 1469.4 1561.3 1467.7C1561.9 1466.4 1562.3 1464.9 1563.2 1463.7C1563.8 1463.0 1564.4 1462.2 1565.2 1461.8C1565.8 1461.5 1566.6 1461.2 1567.2 1461.2C1567.9 1461.3 1568.6 1461.7 1569.2 1462.2C1570.1 1462.8 1570.5 1464.0 1571.2 1464.9C1572.0 1466.1 1572.7 1467.3 1573.5 1468.5C1574.3 1469.6 1575.0 1470.7 1575.9 1471.7C1576.7 1472.5 1577.6 1473.5 1578.7 1474.0C1579.5 1474.5 1580.6 1474.9 1581.4 1474.8C1582.3 1474.7 1583.1 1474.2 1583.8 1473.6C1584.8 1472.9 1585.5 1471.6 1586.2 1470.5C1587.1 1468.9 1587.4 1467.0 1588.2 1465.3C1588.8 1464.0 1589.3 1462.6 1590.1 1461.4C1590.8 1460.4 1591.5 1459.3 1592.5 1458.6C1593.2 1458.1 1594.1 1457.7 1594.9 1457.6C1595.7 1457.5 1596.6 1457.5 1597.3 1457.8C1598.0 1458.1 1598.7 1458.8 1599.3 1459.4C1600.0 1460.2 1600.7 1461.2 1601.2 1462.2C1601.9 1463.4 1602.3 1464.8 1602.8 1466.1C1603.5 1467.7 1604.2 1469.2 1604.8 1470.9C1605.5 1472.9 1605.8 1475.1 1606.4 1477.2C1606.9 1479.3 1607.4 1481.4 1608.0 1483.5C1631.9 1499.4 1655.9 1515.2 1679.8 1531.0"/>
<path stroke="#B8082F" d="M1824.4 1623.8C1836.6 1631.9 1848.8 1640.1 1861.0 1648.2C1862.4 1650.5 1864.0 1652.8 1865.2 1655.2C1866.9 1658.8 1867.4 1663.0 1868.7 1666.8C1869.7 1670.0 1870.5 1673.3 1872.2 1676.1C1873.1 1677.8 1874.3 1680.9 1875.7 1680.8C1876.6 1680.7 1877.9 1679.4 1878.7 1678.5C1880.8 1676.2 1880.7 1672.3 1881.5 1669.2C1882.7 1664.6 1883.5 1659.9 1884.3 1655.2C1885.3 1649.0 1885.9 1642.8 1886.6 1636.6C1887.5 1628.1 1888.2 1619.5 1888.9 1611.0C1889.8 1600.9 1890.5 1590.8 1891.2 1580.7C1892.1 1569.8 1892.8 1559.0 1893.6 1548.1C1894.4 1537.3 1895.1 1526.4 1895.9 1515.5C1896.7 1504.7 1897.5 1493.8 1898.2 1482.9C1899.0 1471.3 1899.8 1459.7 1900.6 1448.0C1901.3 1436.4 1902.2 1424.8 1902.9 1413.1C1903.6 1401.5 1904.2 1389.8 1904.7 1378.2C1905.3 1366.6 1905.9 1354.9 1906.4 1343.3C1907.8 1310.8 1908.6 1278.3 1909.9 1245.9C1910.8 1222.6 1911.9 1199.3 1912.9 1176.1C1913.9 1152.8 1915.0 1129.5 1915.9 1106.2C1916.9 1082.9 1917.7 1059.7 1918.7 1036.4C1919.6 1017.0 1920.5 997.6 1921.5 978.2C1922.5 958.8 1923.4 939.3 1924.5 919.9C1925.6 901.4 1926.9 883.0 1928.0 864.5C1929.2 844.3 1930.2 824.2 1931.5 804.0C1932.6 786.9 1933.8 769.8 1935.0 752.8C1936.1 737.3 1937.3 721.7 1938.5 706.2C1939.6 692.2 1940.8 678.3 1942.0 664.3C1943.5 647.2 1945.1 630.2 1946.6 613.1C1948.2 596.0 1949.6 579.0 1951.3 561.9C1952.0 554.6 1952.8 547.2 1953.6 539.9C1954.5 532.3 1955.3 524.7 1956.4 517.1C1957.3 510.9 1958.0 504.6 1959.5 498.5C1960.4 494.5 1960.9 490.3 1962.9 486.8C1963.9 485.2 1965.4 483.8 1966.4 482.2C1967.7 480.0 1968.6 477.6 1969.5 475.2C1971.3 470.0 1971.5 464.4 1972.3 458.9C1973.3 452.0 1973.9 444.9 1974.6 438.0C1975.5 428.7 1976.2 419.3 1976.9 410.0C1977.8 399.2 1978.5 388.3 1979.2 377.4C1980.1 365.0 1980.8 352.6 1981.6 340.2C1982.3 327.8 1983.1 315.4 1983.9 302.9C1984.7 290.5 1985.4 278.1 1986.2 265.7C1987.0 254.8 1987.7 244.0 1988.5 233.1C1989.3 224.6 1989.8 216.0 1990.9 207.5C1991.5 202.1 1992.0 196.6 1993.2 191.2C1994.0 187.7 1994.8 184.1 1996.0 180.7C1996.6 179.2 1996.8 177.3 1997.9 176.1C1998.4 175.5 1999.1 174.5 1999.7 174.5C2000.6 174.4 2001.4 176.2 2002.0 177.2C2003.5 179.6 2003.7 182.7 2004.4 185.4C2005.4 189.6 2006.0 193.9 2006.7 198.2C2007.7 204.4 2008.3 210.6 2009.0 216.8C2009.9 224.6 2010.6 232.3 2011.4 240.1C2012.3 250.2 2013.3 260.3 2014.2 270.4C2015.0 281.2 2015.7 292.1 2016.5 302.9C2017.3 315.4 2018.1 327.8 2018.8 340.2C2019.6 354.1 2020.4 368.1 2021.1 382.1C2021.9 396.1 2022.8 410.0 2023.5 424.0C2024.2 437.9 2024.7 451.9 2025.3 465.9C2025.9 478.3 2026.4 490.7 2027.0 503.1C2027.8 524.3 2028.5 545.4 2029.3 566.6C2030.0 586.0 2030.7 605.4 2031.6 624.7C2032.3 640.3 2033.2 655.8 2033.9 671.3C2034.7 686.8 2035.5 702.3 2036.3 717.9C2037.0 733.4 2037.8 748.9 2038.6 764.4C2039.4 779.9 2040.1 795.5 2040.9 811.0C2041.7 826.5 2042.6 842.0 2043.2 857.5C2043.9 873.0 2044.5 888.6 2045.1 904.1C2045.7 921.0 2046.0 938.0 2046.7 954.9C2047.6 974.3 2049.1 993.7 2050.2 1013.1C2051.4 1032.5 2052.6 1051.9 2053.7 1071.3C2054.9 1090.7 2056.0 1110.1 2057.2 1129.5C2058.3 1147.3 2059.5 1165.2 2060.7 1183.0C2061.8 1200.1 2063.0 1217.2 2064.2 1234.2C2065.3 1249.8 2066.4 1265.3 2067.7 1280.8C2068.8 1293.9 2069.9 1306.9 2071.2 1320.0C2072.3 1331.6 2073.5 1343.3 2074.7 1354.9C2075.8 1366.6 2077.0 1378.2 2078.2 1389.8C2079.3 1401.5 2080.5 1413.1 2081.7 1424.7C2082.8 1436.4 2084.0 1448.0 2085.1 1459.7C2086.3 1471.3 2087.4 1483.0 2088.6 1494.6C2089.7 1504.7 2090.9 1514.8 2092.1 1524.8C2093.3 1534.2 2094.3 1543.5 2095.6 1552.8C2096.7 1560.5 2097.7 1568.3 2099.1 1576.1C2100.1 1581.5 2100.9 1587.1 2102.6 1592.3C2103.9 1596.2 2104.4 1600.9 2107.3 1603.5C2108.5 1604.7 2110.5 1606.5 2111.9 1606.3C2113.2 1606.1 2114.4 1604.1 2115.4 1602.8C2117.8 1599.9 2118.6 1595.9 2120.1 1592.3C2122.2 1587.4 2123.9 1582.3 2125.9 1577.2C2127.8 1572.2 2129.6 1567.1 2131.7 1562.1C2133.9 1557.0 2136.0 1551.8 2138.7 1547.0C2140.5 1543.8 2142.2 1540.5 2144.5 1537.6C2146.2 1535.5 2148.0 1533.1 2150.3 1531.8C2152.0 1530.9 2154.2 1530.5 2156.1 1530.2C2158.0 1529.9 2160.1 1530.5 2162.0 1530.2C2164.0 1529.8 2166.0 1528.9 2167.8 1527.9C2170.5 1526.3 2172.6 1523.7 2174.8 1521.4C2177.4 1518.5 2179.4 1515.1 2181.8 1512.0C2184.1 1508.9 2186.5 1505.9 2188.7 1502.7C2191.2 1499.3 2193.4 1495.7 2195.7 1492.3C2198.0 1488.8 2200.3 1485.2 2202.7 1481.8C2204.9 1478.6 2207.4 1475.6 2209.7 1472.5C2212.1 1469.0 2214.5 1465.6 2216.7 1462.0C2219.2 1457.8 2221.5 1453.5 2223.6 1449.2C2226.2 1444.2 2228.5 1439.2 2230.6 1434.1C2233.2 1428.0 2235.5 1421.7 2237.6 1415.4C2240.2 1407.8 2242.4 1400.0 2244.6 1392.2C2247.2 1382.9 2249.4 1373.6 2251.6 1364.2C2253.6 1355.7 2255.7 1347.2 2257.4 1338.6C2258.7 1332.4 2259.7 1326.1 2260.9 1319.9C2262.5 1311.5 2263.9 1303.1 2265.5 1294.8C2267.0 1287.0 2268.7 1279.2 2270.2 1271.5C2271.8 1263.7 2273.3 1256.0 2274.9 1248.2C2276.4 1240.5 2277.7 1232.6 2279.5 1224.9C2280.6 1220.3 2281.4 1215.5 2283.0 1211.0C2283.7 1209.0 2284.6 1207.1 2285.3 1205.1"/>
</g>
<g stroke="#1c1c1c" stroke-width="3" fill="none" stroke-linecap="butt">
<path d="M266.1 42.5V1711.9"/>
<path d="M264.6 1710.4H2381"/>
<path d="M266.1 44.0H288.4"/>
<path d="M266.1 321.8H288.4"/>
<path d="M266.1 599.5H288.4"/>
<path d="M266.1 877.2H288.4"/>
<path d="M266.1 1155.0H288.4"/>
<path d="M266.1 1432.7H288.4"/>
<path d="M266.1 1710.4V1687.5"/>
<path d="M794.2 1710.4V1687.5"/>
<path d="M1322.3 1710.4V1687.5"/>
<path d="M1851.3 1710.4V1687.5"/>
<path d="M2379.5 1710.4V1687.5"/>
</g>
<g fill="#000"><path d="M1754.8 1679H1762.3L1742.4 1751.7H1735Z"/><path d="M1781.7 1679H1789.3L1769.3 1751.7H1761.9Z"/></g>
<g fill="#404040" font-size="64">
<text transform="translate(237.3 69.2) scale(1 1.03)" text-anchor="end">0.5</text>
<text transform="translate(237.3 347.0) scale(1 1.03)" text-anchor="end">0.45</text>
<text transform="translate(237.3 624.7) scale(1 1.03)" text-anchor="end">0.4</text>
<text transform="translate(237.3 902.4) scale(1 1.03)" text-anchor="end">0.35</text>
<text transform="translate(237.3 1180.2) scale(1 1.03)" text-anchor="end">0.3</text>
<text transform="translate(237.3 1457.9) scale(1 1.03)" text-anchor="end">0.25</text>
<text transform="translate(237.3 1735.6) scale(1 1.03)" text-anchor="end">0.2</text>
<text transform="translate(266.1 1802.5) scale(1 1.03)" text-anchor="middle">500</text>
<text transform="translate(794.2 1802.5) scale(1 1.03)" text-anchor="middle">1000</text>
<text transform="translate(1322.3 1802.5) scale(1 1.03)" text-anchor="middle">1500</text>
<text transform="translate(1851.3 1802.5) scale(1 1.03)" text-anchor="middle">2800</text>
<text transform="translate(2379.5 1802.5) scale(1 1.03)" text-anchor="middle">3300</text>
</g>
<text x="987.3" y="1919" font-size="71.2" fill="#404040">Wavenumbers [cm<tspan font-size="57" dy="-33.1" dx="2.8">-</tspan><tspan font-size="57" dx="2.3">1</tspan><tspan dy="33.1" dx="1.2">]</tspan></text>
<text transform="translate(75.6 876.6) rotate(-90) scale(1 1.03)" font-size="71.5" fill="#1f1f1f" text-anchor="middle">Intensity [a.u.]</text>
<rect x="327.5" y="80" width="775.5" height="561" fill="#fff" stroke="#1c1c1c" stroke-width="3"/>
<path d="M409 127.5H604" stroke="#0072BD" stroke-width="3" fill="none"/>
<text transform="translate(618 151.0) scale(1 1.015)" font-size="58.5" fill="#000">Pituitary gland</text>
<path d="M409 205.5H604" stroke="#FA500F" stroke-width="3" fill="none"/>
<text transform="translate(618 229.0) scale(1 1.015)" font-size="58.5" fill="#000">Corticotroph</text>
<path d="M409 283.5H604" stroke="#FFB000" stroke-width="3" fill="none"/>
<text transform="translate(618 307.0) scale(1 1.015)" font-size="58.5" fill="#000">Periosteal layer</text>
<path d="M409 361.5H604" stroke="#8F2498" stroke-width="3" fill="none"/>
<text transform="translate(618 385.0) scale(1 1.015)" font-size="58.5" fill="#000">Null cell</text>
<path d="M409 439.5H604" stroke="#55AD20" stroke-width="3" fill="none"/>
<text transform="translate(618 463.0) scale(1 1.015)" font-size="58.5" fill="#000">Plurihormonal</text>
<path d="M409 517.5H604" stroke="#0CBEF0" stroke-width="3" fill="none"/>
<text transform="translate(618 541.0) scale(1 1.015)" font-size="58.5" fill="#000">Somatotroph</text>
<path d="M409 595.5H604" stroke="#B8082F" stroke-width="3" fill="none"/>
<text transform="translate(618 619.0) scale(1 1.015)" font-size="58.5" fill="#000">Gonadotroph</text>
</svg></body></html>
